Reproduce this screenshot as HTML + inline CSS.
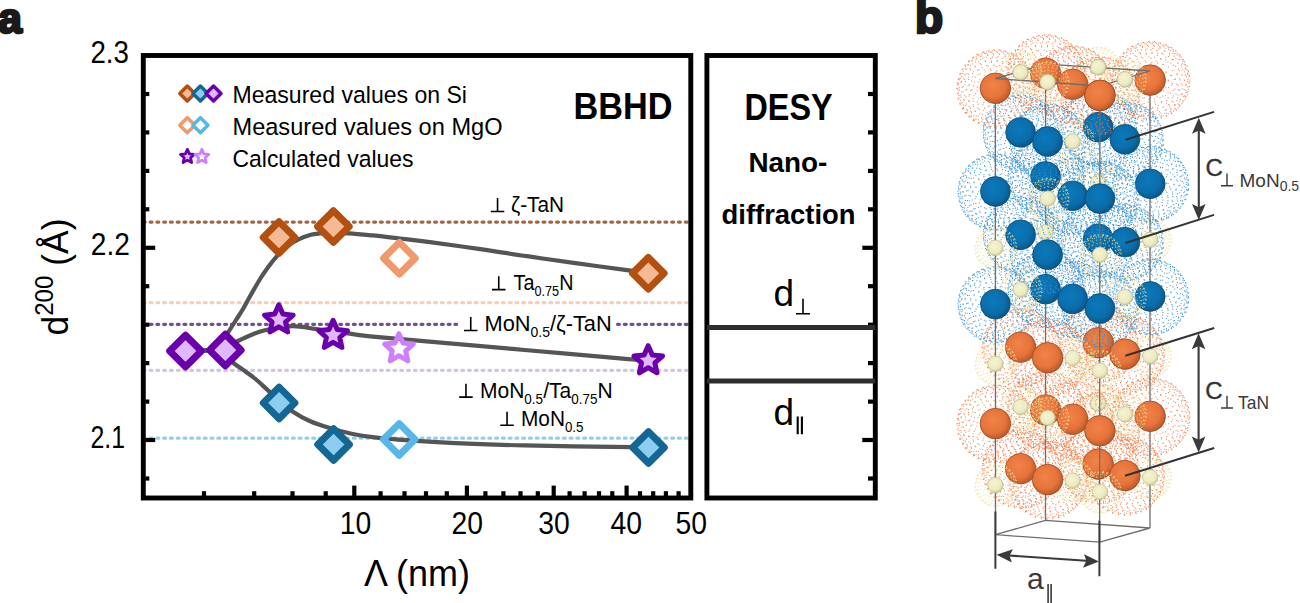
<!DOCTYPE html>
<html><head><meta charset="utf-8"><title>figure</title>
<style>
html,body{margin:0;padding:0;background:#fff;}
body{width:1300px;height:603px;overflow:hidden;}
svg{display:block;font-family:"Liberation Sans", sans-serif;}
</style></head><body>
<svg width="1300" height="603" viewBox="0 0 1300 603">

<defs>
<radialGradient id="gO" cx="0.42" cy="0.4" r="0.62">
  <stop offset="0" stop-color="#f08448"/><stop offset="0.65" stop-color="#e6733a"/><stop offset="1" stop-color="#b9582a"/>
</radialGradient>
<radialGradient id="gB" cx="0.42" cy="0.4" r="0.62">
  <stop offset="0" stop-color="#0b79bd"/><stop offset="0.65" stop-color="#0a6eaa"/><stop offset="1" stop-color="#085589"/>
</radialGradient>
<radialGradient id="gN" cx="0.42" cy="0.4" r="0.62">
  <stop offset="0" stop-color="#f6f4d2"/><stop offset="0.7" stop-color="#eceac0"/><stop offset="1" stop-color="#cfcb9c"/>
</radialGradient>
<g id="dsO"><path d="M0.2 -16.8h1.05v1.05h-1.05zM-0.2 -11.3h1.05v1.05h-1.05zM-5.3 -14.0h1.05v1.05h-1.05zM-5.4 -19.9h1.05v1.05h-1.05zM0.4 -22.3h1.05v1.05h-1.05zM5.5 -19.6h1.05v1.05h-1.05zM5.2 -13.7h1.05v1.05h-1.05zM1.8 -5.2h1.05v1.05h-1.05zM-4.4 -6.2h1.05v1.05h-1.05zM-8.9 -8.6h1.05v1.05h-1.05zM-11.7 -13.5h1.05v1.05h-1.05zM-11.8 -18.8h1.05v1.05h-1.05zM-9.3 -23.3h1.05v1.05h-1.05zM-4.4 -26.4h1.05v1.05h-1.05zM1.2 -27.1h1.05v1.05h-1.05zM6.7 -25.2h1.05v1.05h-1.05zM10.4 -21.1h1.05v1.05h-1.05zM12.1 -16.2h1.05v1.05h-1.05zM10.6 -11.0h1.05v1.05h-1.05zM7.2 -7.5h1.05v1.05h-1.05zM-8.7 -1.2h1.05v1.05h-1.05zM-13.1 -4.6h1.05v1.05h-1.05zM-16.2 -9.0h1.05v1.05h-1.05zM-17.8 -14.1h1.05v1.05h-1.05zM-16.9 -19.2h1.05v1.05h-1.05zM-14.6 -24.1h1.05v1.05h-1.05zM-10.8 -28.1h1.05v1.05h-1.05zM-5.2 -30.4h1.05v1.05h-1.05zM0.3 -31.0h1.05v1.05h-1.05zM6.2 -30.0h1.05v1.05h-1.05zM11.1 -27.5h1.05v1.05h-1.05zM15.1 -23.4h1.05v1.05h-1.05zM17.3 -18.7h1.05v1.05h-1.05zM17.6 -13.7h1.05v1.05h-1.05zM15.8 -8.3h1.05v1.05h-1.05zM13.0 -4.0h1.05v1.05h-1.05zM8.0 -1.1h1.05v1.05h-1.05zM2.5 0.9h1.05v1.05h-1.05zM-3.2 0.6h1.05v1.05h-1.05zM14.5 -29.6h1.05v1.05h-1.05zM18.9 -25.6h1.05v1.05h-1.05zM21.5 -21.0h1.05v1.05h-1.05zM22.8 -15.4h1.05v1.05h-1.05zM22.3 -10.1h1.05v1.05h-1.05zM21.0 -4.9h1.05v1.05h-1.05zM17.8 -0.4h1.05v1.05h-1.05zM13.3 3.2h1.05v1.05h-1.05zM7.9 5.4h1.05v1.05h-1.05zM2.3 6.9h1.05v1.05h-1.05zM-4.0 6.6h1.05v1.05h-1.05zM-9.6 5.0h1.05v1.05h-1.05zM-14.7 2.2h1.05v1.05h-1.05zM-18.6 -1.7h1.05v1.05h-1.05zM-21.5 -6.8h1.05v1.05h-1.05zM-23.0 -12.0h1.05v1.05h-1.05zM-22.6 -17.0h1.05v1.05h-1.05zM-20.7 -22.2h1.05v1.05h-1.05zM-17.5 -27.0h1.05v1.05h-1.05zM-13.1 -30.5h1.05v1.05h-1.05zM-8.2 -33.3h1.05v1.05h-1.05zM-2.4 -34.1h1.05v1.05h-1.05zM3.7 -34.3h1.05v1.05h-1.05zM9.6 -32.6h1.05v1.05h-1.05zM24.8 -1.5h1.05v1.05h-1.05zM21.7 3.0h1.05v1.05h-1.05zM17.9 7.0h1.05v1.05h-1.05zM12.7 10.0h1.05v1.05h-1.05zM7.0 11.9h1.05v1.05h-1.05zM1.4 12.6h1.05v1.05h-1.05zM-4.8 12.7h1.05v1.05h-1.05zM-10.3 10.9h1.05v1.05h-1.05zM-15.5 8.7h1.05v1.05h-1.05zM-20.3 4.8h1.05v1.05h-1.05zM-23.9 0.8h1.05v1.05h-1.05zM-26.3 -4.0h1.05v1.05h-1.05zM-27.3 -9.4h1.05v1.05h-1.05zM-27.5 -14.5h1.05v1.05h-1.05zM-26.0 -20.0h1.05v1.05h-1.05zM-23.7 -24.8h1.05v1.05h-1.05zM-20.0 -29.1h1.05v1.05h-1.05zM-15.5 -32.5h1.05v1.05h-1.05zM-10.3 -35.2h1.05v1.05h-1.05zM-4.1 -36.3h1.05v1.05h-1.05zM1.5 -36.6h1.05v1.05h-1.05zM7.4 -35.7h1.05v1.05h-1.05zM13.1 -33.9h1.05v1.05h-1.05zM17.8 -31.1h1.05v1.05h-1.05zM22.2 -27.2h1.05v1.05h-1.05zM25.2 -22.1h1.05v1.05h-1.05zM27.0 -17.4h1.05v1.05h-1.05zM27.8 -11.7h1.05v1.05h-1.05zM27.0 -6.6h1.05v1.05h-1.05zM-22.8 9.6h1.05v1.05h-1.05zM-26.3 5.6h1.05v1.05h-1.05zM-29.2 0.8h1.05v1.05h-1.05zM-30.8 -4.1h1.05v1.05h-1.05zM-31.5 -9.3h1.05v1.05h-1.05zM-31.0 -14.2h1.05v1.05h-1.05zM-30.0 -19.7h1.05v1.05h-1.05zM-27.4 -24.0h1.05v1.05h-1.05zM-23.8 -28.6h1.05v1.05h-1.05zM-19.8 -32.1h1.05v1.05h-1.05zM-14.7 -34.8h1.05v1.05h-1.05zM-9.5 -36.9h1.05v1.05h-1.05zM-3.7 -38.2h1.05v1.05h-1.05zM2.3 -38.5h1.05v1.05h-1.05zM7.9 -37.7h1.05v1.05h-1.05zM13.1 -35.5h1.05v1.05h-1.05zM18.2 -33.0h1.05v1.05h-1.05zM22.8 -29.5h1.05v1.05h-1.05zM26.3 -25.7h1.05v1.05h-1.05zM29.0 -20.8h1.05v1.05h-1.05zM30.9 -15.7h1.05v1.05h-1.05zM31.7 -10.9h1.05v1.05h-1.05zM31.2 -5.7h1.05v1.05h-1.05zM29.5 -0.7h1.05v1.05h-1.05zM27.5 4.5h1.05v1.05h-1.05zM24.1 8.5h1.05v1.05h-1.05zM19.8 12.4h1.05v1.05h-1.05zM14.8 15.1h1.05v1.05h-1.05zM9.3 16.9h1.05v1.05h-1.05zM3.7 18.4h1.05v1.05h-1.05zM-2.0 18.6h1.05v1.05h-1.05zM-7.8 17.4h1.05v1.05h-1.05zM-13.1 16.0h1.05v1.05h-1.05zM-18.6 13.2h1.05v1.05h-1.05zM28.9 9.5h1.05v1.05h-1.05zM25.3 13.4h1.05v1.05h-1.05zM21.4 17.1h1.05v1.05h-1.05zM16.0 19.8h1.05v1.05h-1.05zM10.7 22.2h1.05v1.05h-1.05zM4.8 23.5h1.05v1.05h-1.05zM-0.9 23.8h1.05v1.05h-1.05zM-6.5 22.9h1.05v1.05h-1.05zM-12.5 21.5h1.05v1.05h-1.05zM-17.9 19.3h1.05v1.05h-1.05zM-22.7 15.9h1.05v1.05h-1.05zM-26.4 12.3h1.05v1.05h-1.05zM-30.0 8.0h1.05v1.05h-1.05zM-32.6 3.0h1.05v1.05h-1.05zM-33.9 -1.6h1.05v1.05h-1.05zM-34.5 -7.3h1.05v1.05h-1.05zM-34.5 -12.4h1.05v1.05h-1.05zM-32.7 -17.6h1.05v1.05h-1.05zM-30.5 -22.4h1.05v1.05h-1.05zM-27.6 -26.9h1.05v1.05h-1.05zM-23.5 -30.9h1.05v1.05h-1.05zM-19.0 -34.2h1.05v1.05h-1.05zM-13.3 -36.5h1.05v1.05h-1.05zM-7.9 -38.1h1.05v1.05h-1.05zM-1.9 -39.0h1.05v1.05h-1.05zM3.7 -38.9h1.05v1.05h-1.05zM9.5 -37.6h1.05v1.05h-1.05zM15.3 -36.0h1.05v1.05h-1.05zM20.1 -33.2h1.05v1.05h-1.05zM24.7 -29.7h1.05v1.05h-1.05zM28.3 -25.9h1.05v1.05h-1.05zM31.3 -21.3h1.05v1.05h-1.05zM33.5 -16.4h1.05v1.05h-1.05zM34.4 -10.9h1.05v1.05h-1.05zM34.6 -5.5h1.05v1.05h-1.05zM33.8 -0.2h1.05v1.05h-1.05zM31.7 4.7h1.05v1.05h-1.05zM10.1 -37.1h1.05v1.05h-1.05zM15.6 -35.3h1.05v1.05h-1.05zM21.1 -32.7h1.05v1.05h-1.05zM25.3 -29.8h1.05v1.05h-1.05zM29.3 -25.5h1.05v1.05h-1.05zM32.4 -21.1h1.05v1.05h-1.05zM34.7 -16.4h1.05v1.05h-1.05zM36.2 -11.6h1.05v1.05h-1.05zM37.3 -6.1h1.05v1.05h-1.05zM37.0 -0.9h1.05v1.05h-1.05zM35.7 4.2h1.05v1.05h-1.05zM33.4 8.9h1.05v1.05h-1.05zM30.5 13.6h1.05v1.05h-1.05zM27.1 17.5h1.05v1.05h-1.05zM22.5 21.4h1.05v1.05h-1.05zM18.0 24.0h1.05v1.05h-1.05zM12.6 26.4h1.05v1.05h-1.05zM6.9 27.5h1.05v1.05h-1.05zM1.1 28.0h1.05v1.05h-1.05zM-4.9 28.0h1.05v1.05h-1.05zM-10.4 26.9h1.05v1.05h-1.05zM-16.0 24.9h1.05v1.05h-1.05zM-21.0 22.2h1.05v1.05h-1.05zM-25.5 19.3h1.05v1.05h-1.05zM-29.4 15.2h1.05v1.05h-1.05zM-32.4 10.7h1.05v1.05h-1.05zM-35.1 6.1h1.05v1.05h-1.05zM-36.4 1.1h1.05v1.05h-1.05zM-37.1 -4.1h1.05v1.05h-1.05zM-36.7 -9.6h1.05v1.05h-1.05zM-35.6 -14.6h1.05v1.05h-1.05zM-33.7 -19.5h1.05v1.05h-1.05zM-30.6 -23.8h1.05v1.05h-1.05zM-26.8 -28.2h1.05v1.05h-1.05zM-22.7 -31.9h1.05v1.05h-1.05zM-18.1 -34.5h1.05v1.05h-1.05zM-12.4 -36.8h1.05v1.05h-1.05zM-6.8 -37.9h1.05v1.05h-1.05zM-1.3 -38.5h1.05v1.05h-1.05zM4.8 -38.4h1.05v1.05h-1.05zM-11.5 -35.7h1.05v1.05h-1.05zM-5.7 -36.7h1.05v1.05h-1.05zM0.2 -37.3h1.05v1.05h-1.05zM5.7 -37.1h1.05v1.05h-1.05zM11.5 -35.7h1.05v1.05h-1.05zM17.2 -34.0h1.05v1.05h-1.05zM22.3 -30.9h1.05v1.05h-1.05zM26.6 -27.6h1.05v1.05h-1.05zM30.5 -23.6h1.05v1.05h-1.05zM33.6 -19.0h1.05v1.05h-1.05zM36.4 -14.3h1.05v1.05h-1.05zM37.7 -9.0h1.05v1.05h-1.05zM38.7 -4.1h1.05v1.05h-1.05zM38.4 1.5h1.05v1.05h-1.05zM37.2 6.7h1.05v1.05h-1.05zM35.1 11.8h1.05v1.05h-1.05zM32.6 16.2h1.05v1.05h-1.05zM28.9 20.4h1.05v1.05h-1.05zM24.3 24.0h1.05v1.05h-1.05zM19.5 27.4h1.05v1.05h-1.05zM14.6 29.3h1.05v1.05h-1.05zM8.8 31.1h1.05v1.05h-1.05zM2.7 31.8h1.05v1.05h-1.05zM-3.1 32.1h1.05v1.05h-1.05zM-9.0 31.0h1.05v1.05h-1.05zM-14.4 29.3h1.05v1.05h-1.05zM-19.6 27.2h1.05v1.05h-1.05zM-24.4 24.0h1.05v1.05h-1.05zM-28.9 20.4h1.05v1.05h-1.05zM-32.5 16.2h1.05v1.05h-1.05zM-35.3 11.6h1.05v1.05h-1.05zM-37.0 6.7h1.05v1.05h-1.05zM-38.0 1.3h1.05v1.05h-1.05zM-38.5 -3.8h1.05v1.05h-1.05zM-37.7 -9.2h1.05v1.05h-1.05zM-36.3 -14.5h1.05v1.05h-1.05zM-34.0 -19.1h1.05v1.05h-1.05zM-30.8 -23.6h1.05v1.05h-1.05zM-26.7 -27.4h1.05v1.05h-1.05zM-22.0 -30.8h1.05v1.05h-1.05zM-17.3 -33.7h1.05v1.05h-1.05zM-35.1 -15.5h1.05v1.05h-1.05zM-32.1 -20.0h1.05v1.05h-1.05zM-28.6 -24.1h1.05v1.05h-1.05zM-24.1 -27.7h1.05v1.05h-1.05zM-19.3 -30.4h1.05v1.05h-1.05zM-13.9 -32.8h1.05v1.05h-1.05zM-8.3 -34.4h1.05v1.05h-1.05zM-2.8 -35.3h1.05v1.05h-1.05zM3.1 -35.0h1.05v1.05h-1.05zM9.1 -34.0h1.05v1.05h-1.05zM14.5 -32.4h1.05v1.05h-1.05zM19.7 -30.1h1.05v1.05h-1.05zM24.5 -27.2h1.05v1.05h-1.05zM29.0 -23.8h1.05v1.05h-1.05zM32.2 -19.5h1.05v1.05h-1.05zM35.3 -15.1h1.05v1.05h-1.05zM37.1 -10.2h1.05v1.05h-1.05zM38.6 -5.0h1.05v1.05h-1.05zM39.2 0.3h1.05v1.05h-1.05zM38.6 5.7h1.05v1.05h-1.05zM37.3 10.6h1.05v1.05h-1.05zM35.1 15.5h1.05v1.05h-1.05zM32.1 20.1h1.05v1.05h-1.05zM28.4 24.1h1.05v1.05h-1.05zM24.2 27.8h1.05v1.05h-1.05zM19.4 30.7h1.05v1.05h-1.05zM14.1 32.9h1.05v1.05h-1.05zM8.5 34.2h1.05v1.05h-1.05zM2.5 35.1h1.05v1.05h-1.05zM-3.0 35.0h1.05v1.05h-1.05zM-9.1 34.3h1.05v1.05h-1.05zM-14.5 32.6h1.05v1.05h-1.05zM-20.0 30.3h1.05v1.05h-1.05zM-24.4 27.3h1.05v1.05h-1.05zM-28.9 23.8h1.05v1.05h-1.05zM-32.6 19.6h1.05v1.05h-1.05zM-35.0 15.1h1.05v1.05h-1.05zM-37.4 10.2h1.05v1.05h-1.05zM-38.6 4.8h1.05v1.05h-1.05zM-39.1 -0.1h1.05v1.05h-1.05zM-38.6 -5.7h1.05v1.05h-1.05zM-37.0 -10.6h1.05v1.05h-1.05zM-26.0 28.3h1.05v1.05h-1.05zM-30.2 24.4h1.05v1.05h-1.05zM-33.3 20.1h1.05v1.05h-1.05zM-36.1 15.2h1.05v1.05h-1.05zM-37.8 10.1h1.05v1.05h-1.05zM-38.6 4.9h1.05v1.05h-1.05zM-38.2 -0.6h1.05v1.05h-1.05zM-37.5 -5.5h1.05v1.05h-1.05zM-35.4 -10.6h1.05v1.05h-1.05zM-33.1 -15.3h1.05v1.05h-1.05zM-29.3 -19.9h1.05v1.05h-1.05zM-25.2 -23.4h1.05v1.05h-1.05zM-20.3 -26.9h1.05v1.05h-1.05zM-15.2 -29.4h1.05v1.05h-1.05zM-9.4 -31.0h1.05v1.05h-1.05zM-3.6 -31.7h1.05v1.05h-1.05zM2.1 -32.1h1.05v1.05h-1.05zM7.9 -31.5h1.05v1.05h-1.05zM13.4 -29.7h1.05v1.05h-1.05zM18.8 -27.4h1.05v1.05h-1.05zM23.7 -24.5h1.05v1.05h-1.05zM28.3 -21.1h1.05v1.05h-1.05zM31.6 -16.9h1.05v1.05h-1.05zM34.8 -12.5h1.05v1.05h-1.05zM36.7 -7.5h1.05v1.05h-1.05zM38.2 -1.9h1.05v1.05h-1.05zM38.4 2.9h1.05v1.05h-1.05zM38.1 8.6h1.05v1.05h-1.05zM36.8 13.7h1.05v1.05h-1.05zM34.2 18.7h1.05v1.05h-1.05zM31.0 23.1h1.05v1.05h-1.05zM27.2 27.0h1.05v1.05h-1.05zM22.9 30.5h1.05v1.05h-1.05zM17.7 33.2h1.05v1.05h-1.05zM12.6 35.4h1.05v1.05h-1.05zM6.8 36.7h1.05v1.05h-1.05zM1.0 37.2h1.05v1.05h-1.05zM-4.9 37.3h1.05v1.05h-1.05zM-10.5 35.7h1.05v1.05h-1.05zM-16.1 34.3h1.05v1.05h-1.05zM-21.5 31.4h1.05v1.05h-1.05zM-32.3 -10.9h1.05v1.05h-1.05zM-29.1 -15.1h1.05v1.05h-1.05zM-25.5 -18.9h1.05v1.05h-1.05zM-21.0 -22.6h1.05v1.05h-1.05zM-15.7 -25.2h1.05v1.05h-1.05zM-10.4 -27.0h1.05v1.05h-1.05zM-4.6 -27.7h1.05v1.05h-1.05zM1.4 -28.4h1.05v1.05h-1.05zM6.8 -27.4h1.05v1.05h-1.05zM12.4 -26.3h1.05v1.05h-1.05zM17.7 -24.2h1.05v1.05h-1.05zM22.5 -21.0h1.05v1.05h-1.05zM27.2 -17.5h1.05v1.05h-1.05zM30.9 -13.4h1.05v1.05h-1.05zM33.5 -8.9h1.05v1.05h-1.05zM35.9 -4.0h1.05v1.05h-1.05zM36.7 0.9h1.05v1.05h-1.05zM37.3 6.4h1.05v1.05h-1.05zM36.3 11.6h1.05v1.05h-1.05zM34.9 16.6h1.05v1.05h-1.05zM32.3 21.3h1.05v1.05h-1.05zM29.2 25.6h1.05v1.05h-1.05zM25.5 29.6h1.05v1.05h-1.05zM20.9 33.0h1.05v1.05h-1.05zM15.9 35.6h1.05v1.05h-1.05zM10.4 37.2h1.05v1.05h-1.05zM4.8 38.2h1.05v1.05h-1.05zM-1.0 38.8h1.05v1.05h-1.05zM-6.8 37.8h1.05v1.05h-1.05zM-12.8 36.8h1.05v1.05h-1.05zM-17.9 34.4h1.05v1.05h-1.05zM-22.5 31.4h1.05v1.05h-1.05zM-27.1 28.0h1.05v1.05h-1.05zM-30.9 23.9h1.05v1.05h-1.05zM-33.5 19.6h1.05v1.05h-1.05zM-35.9 14.5h1.05v1.05h-1.05zM-37.0 9.5h1.05v1.05h-1.05zM-37.3 3.9h1.05v1.05h-1.05zM-36.5 -1.0h1.05v1.05h-1.05zM-35.0 -6.3h1.05v1.05h-1.05zM9.8 -22.2h1.05v1.05h-1.05zM15.0 -20.5h1.05v1.05h-1.05zM20.1 -17.7h1.05v1.05h-1.05zM24.6 -14.4h1.05v1.05h-1.05zM28.6 -10.0h1.05v1.05h-1.05zM31.5 -5.9h1.05v1.05h-1.05zM33.5 -0.7h1.05v1.05h-1.05zM34.8 4.6h1.05v1.05h-1.05zM34.8 9.9h1.05v1.05h-1.05zM33.8 15.3h1.05v1.05h-1.05zM32.1 20.0h1.05v1.05h-1.05zM28.9 24.7h1.05v1.05h-1.05zM25.5 28.8h1.05v1.05h-1.05zM21.1 32.6h1.05v1.05h-1.05zM15.9 35.6h1.05v1.05h-1.05zM10.8 37.4h1.05v1.05h-1.05zM4.9 38.6h1.05v1.05h-1.05zM-1.0 39.1h1.05v1.05h-1.05zM-6.7 38.4h1.05v1.05h-1.05zM-12.6 37.1h1.05v1.05h-1.05zM-17.8 34.5h1.05v1.05h-1.05zM-22.7 31.8h1.05v1.05h-1.05zM-26.7 28.0h1.05v1.05h-1.05zM-29.8 23.7h1.05v1.05h-1.05zM-32.4 18.8h1.05v1.05h-1.05zM-33.9 13.7h1.05v1.05h-1.05zM-34.9 8.2h1.05v1.05h-1.05zM-34.3 3.2h1.05v1.05h-1.05zM-32.8 -2.1h1.05v1.05h-1.05zM-30.5 -7.2h1.05v1.05h-1.05zM-27.2 -11.5h1.05v1.05h-1.05zM-23.4 -15.4h1.05v1.05h-1.05zM-18.5 -18.6h1.05v1.05h-1.05zM-13.7 -21.3h1.05v1.05h-1.05zM-7.8 -22.7h1.05v1.05h-1.05zM-1.9 -23.7h1.05v1.05h-1.05zM3.8 -23.3h1.05v1.05h-1.05zM29.8 18.8h1.05v1.05h-1.05zM27.6 23.4h1.05v1.05h-1.05zM24.3 28.0h1.05v1.05h-1.05zM20.4 31.5h1.05v1.05h-1.05zM15.4 34.8h1.05v1.05h-1.05zM10.4 36.7h1.05v1.05h-1.05zM4.8 37.8h1.05v1.05h-1.05zM-1.3 38.5h1.05v1.05h-1.05zM-6.9 37.6h1.05v1.05h-1.05zM-12.3 36.1h1.05v1.05h-1.05zM-17.4 33.7h1.05v1.05h-1.05zM-22.2 30.3h1.05v1.05h-1.05zM-25.9 26.4h1.05v1.05h-1.05zM-28.6 21.8h1.05v1.05h-1.05zM-30.5 17.0h1.05v1.05h-1.05zM-31.6 11.4h1.05v1.05h-1.05zM-31.2 6.4h1.05v1.05h-1.05zM-30.0 1.2h1.05v1.05h-1.05zM-27.7 -3.4h1.05v1.05h-1.05zM-24.3 -7.9h1.05v1.05h-1.05zM-20.6 -11.6h1.05v1.05h-1.05zM-15.6 -14.9h1.05v1.05h-1.05zM-10.4 -16.8h1.05v1.05h-1.05zM-4.9 -18.3h1.05v1.05h-1.05zM1.1 -18.2h1.05v1.05h-1.05zM7.1 -17.5h1.05v1.05h-1.05zM12.5 -16.1h1.05v1.05h-1.05zM17.6 -13.6h1.05v1.05h-1.05zM22.1 -10.1h1.05v1.05h-1.05zM26.1 -6.3h1.05v1.05h-1.05zM28.8 -1.8h1.05v1.05h-1.05zM30.6 3.2h1.05v1.05h-1.05zM31.5 8.4h1.05v1.05h-1.05zM31.5 13.5h1.05v1.05h-1.05zM-17.8 -6.7h1.05v1.05h-1.05zM-13.1 -9.9h1.05v1.05h-1.05zM-7.6 -11.7h1.05v1.05h-1.05zM-1.5 -12.7h1.05v1.05h-1.05zM4.4 -12.3h1.05v1.05h-1.05zM10.2 -11.2h1.05v1.05h-1.05zM15.3 -8.5h1.05v1.05h-1.05zM19.8 -5.1h1.05v1.05h-1.05zM23.5 -1.1h1.05v1.05h-1.05zM26.0 3.7h1.05v1.05h-1.05zM27.3 9.1h1.05v1.05h-1.05zM27.2 14.3h1.05v1.05h-1.05zM26.1 19.9h1.05v1.05h-1.05zM23.8 24.5h1.05v1.05h-1.05zM20.4 28.8h1.05v1.05h-1.05zM15.7 32.6h1.05v1.05h-1.05zM10.5 35.0h1.05v1.05h-1.05zM4.8 36.5h1.05v1.05h-1.05zM-1.2 36.8h1.05v1.05h-1.05zM-6.9 36.1h1.05v1.05h-1.05zM-12.9 33.8h1.05v1.05h-1.05zM-17.5 30.9h1.05v1.05h-1.05zM-22.1 27.1h1.05v1.05h-1.05zM-24.9 22.8h1.05v1.05h-1.05zM-26.9 17.6h1.05v1.05h-1.05zM-27.4 12.0h1.05v1.05h-1.05zM-26.9 7.1h1.05v1.05h-1.05zM-25.1 1.8h1.05v1.05h-1.05zM-22.2 -2.7h1.05v1.05h-1.05zM22.3 9.8h1.05v1.05h-1.05zM22.8 15.3h1.05v1.05h-1.05zM21.5 20.3h1.05v1.05h-1.05zM18.9 25.3h1.05v1.05h-1.05zM15.2 29.5h1.05v1.05h-1.05zM10.2 32.4h1.05v1.05h-1.05zM4.1 33.9h1.05v1.05h-1.05zM-1.5 34.2h1.05v1.05h-1.05zM-7.5 33.4h1.05v1.05h-1.05zM-13.0 31.0h1.05v1.05h-1.05zM-17.5 27.2h1.05v1.05h-1.05zM-20.4 22.6h1.05v1.05h-1.05zM-22.5 17.6h1.05v1.05h-1.05zM-22.7 12.5h1.05v1.05h-1.05zM-21.8 7.0h1.05v1.05h-1.05zM-18.8 2.2h1.05v1.05h-1.05zM-15.2 -1.7h1.05v1.05h-1.05zM-10.1 -4.8h1.05v1.05h-1.05zM-4.6 -6.3h1.05v1.05h-1.05zM1.7 -6.7h1.05v1.05h-1.05zM7.7 -5.9h1.05v1.05h-1.05zM12.9 -3.4h1.05v1.05h-1.05zM17.4 0.4h1.05v1.05h-1.05zM20.5 4.6h1.05v1.05h-1.05zM-4.8 -0.4h1.05v1.05h-1.05zM0.8 -0.8h1.05v1.05h-1.05zM6.7 0.6h1.05v1.05h-1.05zM11.7 3.2h1.05v1.05h-1.05zM15.2 7.1h1.05v1.05h-1.05zM17.3 12.2h1.05v1.05h-1.05zM17.4 17.2h1.05v1.05h-1.05zM15.7 22.3h1.05v1.05h-1.05zM12.3 26.6h1.05v1.05h-1.05zM7.4 29.7h1.05v1.05h-1.05zM2.0 31.0h1.05v1.05h-1.05zM-4.1 30.6h1.05v1.05h-1.05zM-9.2 28.8h1.05v1.05h-1.05zM-13.5 25.4h1.05v1.05h-1.05zM-16.7 20.7h1.05v1.05h-1.05zM-17.8 15.4h1.05v1.05h-1.05zM-17.1 10.2h1.05v1.05h-1.05zM-14.5 5.7h1.05v1.05h-1.05zM-10.0 2.0h1.05v1.05h-1.05zM-4.9 6.0h1.05v1.05h-1.05zM0.9 5.5h1.05v1.05h-1.05zM6.3 6.7h1.05v1.05h-1.05zM10.2 10.5h1.05v1.05h-1.05zM12.1 15.4h1.05v1.05h-1.05zM10.8 20.8h1.05v1.05h-1.05zM7.6 24.7h1.05v1.05h-1.05zM2.1 26.8h1.05v1.05h-1.05zM-4.0 26.4h1.05v1.05h-1.05zM-8.8 23.6h1.05v1.05h-1.05zM-11.4 19.3h1.05v1.05h-1.05zM-12.1 13.8h1.05v1.05h-1.05zM-9.3 9.1h1.05v1.05h-1.05zM-2.6 21.5h1.05v1.05h-1.05zM-6.3 17.1h1.05v1.05h-1.05zM-3.6 12.5h1.05v1.05h-1.05zM2.6 11.6h1.05v1.05h-1.05zM6.2 16.1h1.05v1.05h-1.05zM3.6 21.1h1.05v1.05h-1.05zM-0.1 17.1h1.05v1.05h-1.05z" fill="#ef7d48" fill-opacity="0.9"/></g>
<g id="dsB"><path d="M0.2 -16.8h1.05v1.05h-1.05zM5.3 -13.5h1.05v1.05h-1.05zM0.9 -11.1h1.05v1.05h-1.05zM-4.0 -12.4h1.05v1.05h-1.05zM-5.9 -16.9h1.05v1.05h-1.05zM-3.3 -20.8h1.05v1.05h-1.05zM1.9 -21.2h1.05v1.05h-1.05zM5.8 -18.2h1.05v1.05h-1.05zM-11.2 -12.4h1.05v1.05h-1.05zM-11.9 -17.2h1.05v1.05h-1.05zM-9.6 -21.9h1.05v1.05h-1.05zM-5.1 -25.1h1.05v1.05h-1.05zM0.2 -26.4h1.05v1.05h-1.05zM5.4 -25.1h1.05v1.05h-1.05zM9.6 -21.6h1.05v1.05h-1.05zM11.9 -16.7h1.05v1.05h-1.05zM10.8 -11.6h1.05v1.05h-1.05zM7.8 -7.6h1.05v1.05h-1.05zM2.8 -5.3h1.05v1.05h-1.05zM-2.8 -5.6h1.05v1.05h-1.05zM-7.7 -7.7h1.05v1.05h-1.05zM9.3 -1.4h1.05v1.05h-1.05zM3.9 0.4h1.05v1.05h-1.05zM-1.8 0.9h1.05v1.05h-1.05zM-7.3 -0.5h1.05v1.05h-1.05zM-12.0 -3.3h1.05v1.05h-1.05zM-15.1 -7.6h1.05v1.05h-1.05zM-17.0 -12.3h1.05v1.05h-1.05zM-16.8 -17.6h1.05v1.05h-1.05zM-15.1 -22.5h1.05v1.05h-1.05zM-11.3 -26.5h1.05v1.05h-1.05zM-6.4 -29.2h1.05v1.05h-1.05zM-0.9 -30.3h1.05v1.05h-1.05zM4.8 -29.6h1.05v1.05h-1.05zM9.7 -27.5h1.05v1.05h-1.05zM13.9 -24.0h1.05v1.05h-1.05zM16.3 -19.6h1.05v1.05h-1.05zM17.3 -14.2h1.05v1.05h-1.05zM16.3 -9.6h1.05v1.05h-1.05zM13.6 -4.8h1.05v1.05h-1.05zM18.5 -24.3h1.05v1.05h-1.05zM20.9 -19.8h1.05v1.05h-1.05zM22.2 -15.1h1.05v1.05h-1.05zM22.2 -10.1h1.05v1.05h-1.05zM20.4 -4.9h1.05v1.05h-1.05zM17.3 -0.9h1.05v1.05h-1.05zM13.6 2.7h1.05v1.05h-1.05zM8.6 5.0h1.05v1.05h-1.05zM3.1 6.4h1.05v1.05h-1.05zM-2.4 6.4h1.05v1.05h-1.05zM-7.7 5.2h1.05v1.05h-1.05zM-12.7 2.8h1.05v1.05h-1.05zM-17.1 -0.2h1.05v1.05h-1.05zM-20.2 -4.7h1.05v1.05h-1.05zM-21.8 -9.4h1.05v1.05h-1.05zM-22.5 -14.1h1.05v1.05h-1.05zM-21.5 -19.5h1.05v1.05h-1.05zM-19.1 -23.8h1.05v1.05h-1.05zM-15.4 -28.0h1.05v1.05h-1.05zM-11.1 -31.1h1.05v1.05h-1.05zM-5.9 -32.6h1.05v1.05h-1.05zM-0.2 -33.3h1.05v1.05h-1.05zM5.4 -32.7h1.05v1.05h-1.05zM10.6 -31.2h1.05v1.05h-1.05zM14.9 -28.2h1.05v1.05h-1.05zM-11.1 10.4h1.05v1.05h-1.05zM-15.6 7.7h1.05v1.05h-1.05zM-19.9 4.5h1.05v1.05h-1.05zM-23.2 0.3h1.05v1.05h-1.05zM-25.3 -4.3h1.05v1.05h-1.05zM-26.7 -9.1h1.05v1.05h-1.05zM-27.0 -14.1h1.05v1.05h-1.05zM-25.8 -19.3h1.05v1.05h-1.05zM-23.5 -23.9h1.05v1.05h-1.05zM-20.2 -27.8h1.05v1.05h-1.05zM-15.8 -31.0h1.05v1.05h-1.05zM-10.8 -33.5h1.05v1.05h-1.05zM-5.8 -35.4h1.05v1.05h-1.05zM-0.2 -35.8h1.05v1.05h-1.05zM5.6 -35.2h1.05v1.05h-1.05zM11.0 -33.9h1.05v1.05h-1.05zM15.7 -31.3h1.05v1.05h-1.05zM19.7 -28.2h1.05v1.05h-1.05zM23.2 -24.0h1.05v1.05h-1.05zM25.6 -19.3h1.05v1.05h-1.05zM26.5 -14.4h1.05v1.05h-1.05zM26.6 -9.4h1.05v1.05h-1.05zM25.6 -4.3h1.05v1.05h-1.05zM23.2 0.4h1.05v1.05h-1.05zM19.9 4.7h1.05v1.05h-1.05zM16.1 8.0h1.05v1.05h-1.05zM11.0 10.4h1.05v1.05h-1.05zM5.7 11.7h1.05v1.05h-1.05zM0.0 12.5h1.05v1.05h-1.05zM-5.7 11.8h1.05v1.05h-1.05zM9.9 -35.9h1.05v1.05h-1.05zM15.4 -33.7h1.05v1.05h-1.05zM19.7 -30.6h1.05v1.05h-1.05zM23.7 -27.5h1.05v1.05h-1.05zM27.1 -23.2h1.05v1.05h-1.05zM29.1 -18.1h1.05v1.05h-1.05zM30.6 -13.6h1.05v1.05h-1.05zM30.7 -8.3h1.05v1.05h-1.05zM29.9 -3.3h1.05v1.05h-1.05zM28.1 1.4h1.05v1.05h-1.05zM25.1 6.0h1.05v1.05h-1.05zM21.8 9.8h1.05v1.05h-1.05zM17.3 13.1h1.05v1.05h-1.05zM12.2 15.6h1.05v1.05h-1.05zM6.8 17.4h1.05v1.05h-1.05zM1.1 17.8h1.05v1.05h-1.05zM-4.7 17.5h1.05v1.05h-1.05zM-9.8 16.5h1.05v1.05h-1.05zM-14.9 14.5h1.05v1.05h-1.05zM-20.1 11.5h1.05v1.05h-1.05zM-23.7 7.9h1.05v1.05h-1.05zM-27.0 3.5h1.05v1.05h-1.05zM-29.2 -1.0h1.05v1.05h-1.05zM-30.6 -6.1h1.05v1.05h-1.05zM-30.7 -11.0h1.05v1.05h-1.05zM-29.7 -16.0h1.05v1.05h-1.05zM-27.9 -21.2h1.05v1.05h-1.05zM-25.4 -25.5h1.05v1.05h-1.05zM-21.7 -29.5h1.05v1.05h-1.05zM-17.1 -32.5h1.05v1.05h-1.05zM-12.2 -35.0h1.05v1.05h-1.05zM-7.0 -36.8h1.05v1.05h-1.05zM-0.9 -37.6h1.05v1.05h-1.05zM4.4 -37.3h1.05v1.05h-1.05zM29.2 8.4h1.05v1.05h-1.05zM25.7 12.2h1.05v1.05h-1.05zM21.4 15.9h1.05v1.05h-1.05zM16.9 19.0h1.05v1.05h-1.05zM11.6 21.1h1.05v1.05h-1.05zM5.9 22.5h1.05v1.05h-1.05zM0.6 23.1h1.05v1.05h-1.05zM-5.6 22.6h1.05v1.05h-1.05zM-10.8 21.2h1.05v1.05h-1.05zM-16.0 19.2h1.05v1.05h-1.05zM-20.9 16.4h1.05v1.05h-1.05zM-24.9 13.0h1.05v1.05h-1.05zM-28.6 8.6h1.05v1.05h-1.05zM-31.3 3.9h1.05v1.05h-1.05zM-33.0 -0.6h1.05v1.05h-1.05zM-34.0 -5.9h1.05v1.05h-1.05zM-33.6 -11.1h1.05v1.05h-1.05zM-32.4 -15.9h1.05v1.05h-1.05zM-30.3 -21.0h1.05v1.05h-1.05zM-27.2 -25.5h1.05v1.05h-1.05zM-23.6 -29.2h1.05v1.05h-1.05zM-19.1 -32.4h1.05v1.05h-1.05zM-14.4 -35.1h1.05v1.05h-1.05zM-8.9 -36.8h1.05v1.05h-1.05zM-3.0 -37.8h1.05v1.05h-1.05zM2.3 -37.9h1.05v1.05h-1.05zM8.3 -36.9h1.05v1.05h-1.05zM13.7 -35.3h1.05v1.05h-1.05zM18.4 -32.7h1.05v1.05h-1.05zM23.3 -29.7h1.05v1.05h-1.05zM27.2 -25.7h1.05v1.05h-1.05zM29.9 -21.4h1.05v1.05h-1.05zM32.4 -16.9h1.05v1.05h-1.05zM33.7 -11.7h1.05v1.05h-1.05zM33.7 -6.4h1.05v1.05h-1.05zM33.0 -1.3h1.05v1.05h-1.05zM31.5 3.4h1.05v1.05h-1.05zM-33.1 -18.4h1.05v1.05h-1.05zM-30.1 -22.9h1.05v1.05h-1.05zM-27.2 -26.8h1.05v1.05h-1.05zM-22.7 -30.2h1.05v1.05h-1.05zM-18.1 -33.2h1.05v1.05h-1.05zM-13.0 -35.5h1.05v1.05h-1.05zM-7.8 -36.9h1.05v1.05h-1.05zM-2.3 -37.8h1.05v1.05h-1.05zM3.8 -37.6h1.05v1.05h-1.05zM9.4 -36.4h1.05v1.05h-1.05zM14.5 -34.8h1.05v1.05h-1.05zM19.7 -32.3h1.05v1.05h-1.05zM23.9 -29.5h1.05v1.05h-1.05zM27.9 -25.7h1.05v1.05h-1.05zM31.1 -21.7h1.05v1.05h-1.05zM33.7 -16.6h1.05v1.05h-1.05zM35.3 -12.0h1.05v1.05h-1.05zM36.0 -7.0h1.05v1.05h-1.05zM36.1 -1.9h1.05v1.05h-1.05zM35.0 3.2h1.05v1.05h-1.05zM33.1 8.2h1.05v1.05h-1.05zM30.2 12.7h1.05v1.05h-1.05zM26.8 16.7h1.05v1.05h-1.05zM23.0 20.2h1.05v1.05h-1.05zM18.1 23.2h1.05v1.05h-1.05zM12.9 25.3h1.05v1.05h-1.05zM7.6 26.7h1.05v1.05h-1.05zM2.2 27.5h1.05v1.05h-1.05zM-3.6 27.2h1.05v1.05h-1.05zM-9.4 26.3h1.05v1.05h-1.05zM-14.7 24.6h1.05v1.05h-1.05zM-19.3 22.1h1.05v1.05h-1.05zM-23.9 19.1h1.05v1.05h-1.05zM-28.1 15.4h1.05v1.05h-1.05zM-31.4 11.2h1.05v1.05h-1.05zM-33.9 6.6h1.05v1.05h-1.05zM-35.4 2.0h1.05v1.05h-1.05zM-35.9 -3.3h1.05v1.05h-1.05zM-35.9 -8.2h1.05v1.05h-1.05zM-35.0 -13.6h1.05v1.05h-1.05zM2.7 31.2h1.05v1.05h-1.05zM-2.9 31.0h1.05v1.05h-1.05zM-8.4 30.2h1.05v1.05h-1.05zM-13.9 28.8h1.05v1.05h-1.05zM-19.2 26.6h1.05v1.05h-1.05zM-24.0 23.7h1.05v1.05h-1.05zM-27.8 19.9h1.05v1.05h-1.05zM-31.4 16.0h1.05v1.05h-1.05zM-34.1 11.4h1.05v1.05h-1.05zM-36.0 6.6h1.05v1.05h-1.05zM-37.2 1.5h1.05v1.05h-1.05zM-37.6 -3.8h1.05v1.05h-1.05zM-36.8 -9.1h1.05v1.05h-1.05zM-35.4 -14.2h1.05v1.05h-1.05zM-32.7 -18.8h1.05v1.05h-1.05zM-29.9 -22.9h1.05v1.05h-1.05zM-26.2 -26.7h1.05v1.05h-1.05zM-21.8 -30.5h1.05v1.05h-1.05zM-16.7 -32.9h1.05v1.05h-1.05zM-11.1 -34.6h1.05v1.05h-1.05zM-5.6 -36.0h1.05v1.05h-1.05zM0.0 -36.5h1.05v1.05h-1.05zM5.9 -36.0h1.05v1.05h-1.05zM11.2 -34.7h1.05v1.05h-1.05zM16.5 -33.0h1.05v1.05h-1.05zM21.8 -30.4h1.05v1.05h-1.05zM25.9 -27.1h1.05v1.05h-1.05zM29.7 -23.1h1.05v1.05h-1.05zM32.9 -18.8h1.05v1.05h-1.05zM35.2 -14.1h1.05v1.05h-1.05zM36.9 -9.1h1.05v1.05h-1.05zM37.4 -3.7h1.05v1.05h-1.05zM37.1 1.1h1.05v1.05h-1.05zM36.4 6.3h1.05v1.05h-1.05zM34.4 11.1h1.05v1.05h-1.05zM31.5 16.0h1.05v1.05h-1.05zM27.9 20.0h1.05v1.05h-1.05zM23.9 23.4h1.05v1.05h-1.05zM19.4 26.4h1.05v1.05h-1.05zM14.0 28.8h1.05v1.05h-1.05zM8.5 30.5h1.05v1.05h-1.05zM-31.0 -19.7h1.05v1.05h-1.05zM-27.2 -23.4h1.05v1.05h-1.05zM-23.1 -27.1h1.05v1.05h-1.05zM-18.6 -29.9h1.05v1.05h-1.05zM-13.6 -32.2h1.05v1.05h-1.05zM-7.7 -33.7h1.05v1.05h-1.05zM-2.1 -34.1h1.05v1.05h-1.05zM3.6 -34.3h1.05v1.05h-1.05zM8.9 -33.1h1.05v1.05h-1.05zM14.1 -31.9h1.05v1.05h-1.05zM19.4 -29.5h1.05v1.05h-1.05zM23.9 -26.4h1.05v1.05h-1.05zM28.0 -22.7h1.05v1.05h-1.05zM31.8 -19.1h1.05v1.05h-1.05zM34.7 -14.5h1.05v1.05h-1.05zM36.5 -9.6h1.05v1.05h-1.05zM37.5 -4.6h1.05v1.05h-1.05zM37.8 0.3h1.05v1.05h-1.05zM37.7 5.7h1.05v1.05h-1.05zM36.2 10.6h1.05v1.05h-1.05zM34.2 15.1h1.05v1.05h-1.05zM31.1 19.5h1.05v1.05h-1.05zM27.3 23.4h1.05v1.05h-1.05zM23.1 26.8h1.05v1.05h-1.05zM18.4 29.8h1.05v1.05h-1.05zM13.4 32.2h1.05v1.05h-1.05zM8.1 33.6h1.05v1.05h-1.05zM2.3 34.4h1.05v1.05h-1.05zM-3.6 33.9h1.05v1.05h-1.05zM-8.8 33.3h1.05v1.05h-1.05zM-14.5 31.6h1.05v1.05h-1.05zM-19.6 29.3h1.05v1.05h-1.05zM-24.2 26.4h1.05v1.05h-1.05zM-28.1 23.1h1.05v1.05h-1.05zM-31.7 18.9h1.05v1.05h-1.05zM-34.6 14.5h1.05v1.05h-1.05zM-36.2 9.5h1.05v1.05h-1.05zM-37.6 4.7h1.05v1.05h-1.05zM-37.9 -0.7h1.05v1.05h-1.05zM-37.5 -5.7h1.05v1.05h-1.05zM-36.3 -10.5h1.05v1.05h-1.05zM-33.9 -15.2h1.05v1.05h-1.05zM-1.7 -31.2h1.05v1.05h-1.05zM3.7 -30.9h1.05v1.05h-1.05zM9.7 -29.9h1.05v1.05h-1.05zM15.0 -28.6h1.05v1.05h-1.05zM19.9 -26.2h1.05v1.05h-1.05zM24.7 -22.9h1.05v1.05h-1.05zM28.5 -19.0h1.05v1.05h-1.05zM32.3 -14.8h1.05v1.05h-1.05zM34.6 -10.5h1.05v1.05h-1.05zM36.3 -5.3h1.05v1.05h-1.05zM37.5 -0.5h1.05v1.05h-1.05zM37.7 4.8h1.05v1.05h-1.05zM36.6 9.9h1.05v1.05h-1.05zM35.1 14.9h1.05v1.05h-1.05zM32.5 19.4h1.05v1.05h-1.05zM29.3 23.7h1.05v1.05h-1.05zM25.5 27.4h1.05v1.05h-1.05zM20.7 30.8h1.05v1.05h-1.05zM15.7 33.3h1.05v1.05h-1.05zM10.5 34.9h1.05v1.05h-1.05zM4.8 36.2h1.05v1.05h-1.05zM-0.9 36.3h1.05v1.05h-1.05zM-6.8 35.8h1.05v1.05h-1.05zM-12.3 34.4h1.05v1.05h-1.05zM-17.7 32.4h1.05v1.05h-1.05zM-22.6 29.7h1.05v1.05h-1.05zM-26.7 26.2h1.05v1.05h-1.05zM-30.6 22.4h1.05v1.05h-1.05zM-33.3 17.8h1.05v1.05h-1.05zM-35.6 13.2h1.05v1.05h-1.05zM-36.8 8.2h1.05v1.05h-1.05zM-37.6 2.8h1.05v1.05h-1.05zM-37.0 -2.3h1.05v1.05h-1.05zM-36.1 -7.1h1.05v1.05h-1.05zM-34.0 -12.2h1.05v1.05h-1.05zM-31.0 -16.7h1.05v1.05h-1.05zM-27.2 -20.7h1.05v1.05h-1.05zM-23.1 -24.1h1.05v1.05h-1.05zM-18.1 -27.2h1.05v1.05h-1.05zM-13.0 -29.3h1.05v1.05h-1.05zM-7.7 -30.5h1.05v1.05h-1.05zM-25.9 28.1h1.05v1.05h-1.05zM-29.1 24.2h1.05v1.05h-1.05zM-32.3 19.9h1.05v1.05h-1.05zM-34.2 14.9h1.05v1.05h-1.05zM-35.8 10.3h1.05v1.05h-1.05zM-35.9 4.8h1.05v1.05h-1.05zM-35.6 0.1h1.05v1.05h-1.05zM-34.3 -5.0h1.05v1.05h-1.05zM-32.1 -9.9h1.05v1.05h-1.05zM-29.3 -14.4h1.05v1.05h-1.05zM-25.4 -18.2h1.05v1.05h-1.05zM-21.1 -21.4h1.05v1.05h-1.05zM-16.3 -23.7h1.05v1.05h-1.05zM-11.1 -25.9h1.05v1.05h-1.05zM-5.6 -27.2h1.05v1.05h-1.05zM0.0 -27.4h1.05v1.05h-1.05zM6.0 -27.2h1.05v1.05h-1.05zM11.5 -25.7h1.05v1.05h-1.05zM16.3 -23.7h1.05v1.05h-1.05zM21.3 -21.1h1.05v1.05h-1.05zM25.5 -17.8h1.05v1.05h-1.05zM29.3 -13.8h1.05v1.05h-1.05zM32.3 -9.4h1.05v1.05h-1.05zM34.5 -5.0h1.05v1.05h-1.05zM35.5 0.1h1.05v1.05h-1.05zM36.0 5.1h1.05v1.05h-1.05zM35.6 10.4h1.05v1.05h-1.05zM34.4 15.4h1.05v1.05h-1.05zM32.3 19.8h1.05v1.05h-1.05zM29.2 24.1h1.05v1.05h-1.05zM25.5 28.2h1.05v1.05h-1.05zM20.9 31.4h1.05v1.05h-1.05zM16.3 34.2h1.05v1.05h-1.05zM11.2 36.0h1.05v1.05h-1.05zM5.4 37.5h1.05v1.05h-1.05zM-0.1 37.5h1.05v1.05h-1.05zM-5.7 37.2h1.05v1.05h-1.05zM-11.1 36.1h1.05v1.05h-1.05zM-16.4 34.2h1.05v1.05h-1.05zM-21.4 31.6h1.05v1.05h-1.05zM33.3 12.6h1.05v1.05h-1.05zM31.8 17.5h1.05v1.05h-1.05zM30.0 22.2h1.05v1.05h-1.05zM26.7 26.2h1.05v1.05h-1.05zM22.6 30.3h1.05v1.05h-1.05zM18.0 33.3h1.05v1.05h-1.05zM13.1 35.5h1.05v1.05h-1.05zM7.2 37.3h1.05v1.05h-1.05zM2.0 38.1h1.05v1.05h-1.05zM-3.9 37.7h1.05v1.05h-1.05zM-9.4 36.5h1.05v1.05h-1.05zM-15.1 35.0h1.05v1.05h-1.05zM-19.7 32.1h1.05v1.05h-1.05zM-24.0 28.6h1.05v1.05h-1.05zM-27.8 24.6h1.05v1.05h-1.05zM-30.9 20.2h1.05v1.05h-1.05zM-32.9 15.4h1.05v1.05h-1.05zM-33.7 10.3h1.05v1.05h-1.05zM-33.7 5.0h1.05v1.05h-1.05zM-32.8 0.1h1.05v1.05h-1.05zM-31.0 -4.6h1.05v1.05h-1.05zM-28.4 -9.4h1.05v1.05h-1.05zM-24.7 -13.5h1.05v1.05h-1.05zM-20.1 -16.8h1.05v1.05h-1.05zM-15.5 -19.6h1.05v1.05h-1.05zM-10.2 -21.3h1.05v1.05h-1.05zM-4.5 -22.6h1.05v1.05h-1.05zM1.0 -22.9h1.05v1.05h-1.05zM6.6 -22.4h1.05v1.05h-1.05zM12.1 -20.8h1.05v1.05h-1.05zM17.7 -18.5h1.05v1.05h-1.05zM22.2 -15.7h1.05v1.05h-1.05zM26.1 -11.9h1.05v1.05h-1.05zM29.4 -7.7h1.05v1.05h-1.05zM31.7 -2.8h1.05v1.05h-1.05zM33.5 2.2h1.05v1.05h-1.05zM33.9 7.0h1.05v1.05h-1.05zM-9.7 36.2h1.05v1.05h-1.05zM-15.1 33.9h1.05v1.05h-1.05zM-19.7 30.8h1.05v1.05h-1.05zM-23.6 27.2h1.05v1.05h-1.05zM-26.8 23.0h1.05v1.05h-1.05zM-29.1 18.4h1.05v1.05h-1.05zM-30.5 13.4h1.05v1.05h-1.05zM-30.5 8.4h1.05v1.05h-1.05zM-29.9 3.2h1.05v1.05h-1.05zM-27.9 -1.5h1.05v1.05h-1.05zM-25.2 -5.8h1.05v1.05h-1.05zM-21.8 -9.9h1.05v1.05h-1.05zM-17.2 -13.2h1.05v1.05h-1.05zM-12.0 -15.4h1.05v1.05h-1.05zM-6.9 -17.2h1.05v1.05h-1.05zM-1.1 -17.8h1.05v1.05h-1.05zM4.3 -17.5h1.05v1.05h-1.05zM9.8 -16.7h1.05v1.05h-1.05zM15.2 -14.3h1.05v1.05h-1.05zM19.7 -11.5h1.05v1.05h-1.05zM24.0 -7.7h1.05v1.05h-1.05zM26.9 -3.4h1.05v1.05h-1.05zM29.2 1.0h1.05v1.05h-1.05zM30.5 6.2h1.05v1.05h-1.05zM30.9 11.2h1.05v1.05h-1.05zM30.0 16.1h1.05v1.05h-1.05zM27.8 21.0h1.05v1.05h-1.05zM25.1 25.7h1.05v1.05h-1.05zM21.6 29.4h1.05v1.05h-1.05zM17.4 32.5h1.05v1.05h-1.05zM12.4 35.0h1.05v1.05h-1.05zM6.7 36.7h1.05v1.05h-1.05zM1.2 37.6h1.05v1.05h-1.05zM-4.4 36.9h1.05v1.05h-1.05zM26.5 14.5h1.05v1.05h-1.05zM25.6 19.2h1.05v1.05h-1.05zM23.0 24.0h1.05v1.05h-1.05zM20.0 28.3h1.05v1.05h-1.05zM15.7 31.5h1.05v1.05h-1.05zM10.7 33.8h1.05v1.05h-1.05zM5.3 35.2h1.05v1.05h-1.05zM-0.4 36.0h1.05v1.05h-1.05zM-5.8 35.4h1.05v1.05h-1.05zM-11.2 33.6h1.05v1.05h-1.05zM-16.0 31.1h1.05v1.05h-1.05zM-20.3 27.8h1.05v1.05h-1.05zM-23.2 23.4h1.05v1.05h-1.05zM-25.8 19.1h1.05v1.05h-1.05zM-26.6 13.8h1.05v1.05h-1.05zM-26.6 8.8h1.05v1.05h-1.05zM-25.3 4.0h1.05v1.05h-1.05zM-23.1 -0.8h1.05v1.05h-1.05zM-19.8 -4.7h1.05v1.05h-1.05zM-15.6 -8.2h1.05v1.05h-1.05zM-10.8 -10.4h1.05v1.05h-1.05zM-5.1 -11.9h1.05v1.05h-1.05zM0.4 -12.4h1.05v1.05h-1.05zM5.7 -12.1h1.05v1.05h-1.05zM11.3 -10.6h1.05v1.05h-1.05zM15.8 -7.6h1.05v1.05h-1.05zM20.0 -4.5h1.05v1.05h-1.05zM23.4 -0.0h1.05v1.05h-1.05zM25.4 4.7h1.05v1.05h-1.05zM26.7 9.5h1.05v1.05h-1.05zM-22.2 17.0h1.05v1.05h-1.05zM-22.4 11.9h1.05v1.05h-1.05zM-20.9 6.8h1.05v1.05h-1.05zM-18.4 2.1h1.05v1.05h-1.05zM-15.2 -1.5h1.05v1.05h-1.05zM-10.7 -4.3h1.05v1.05h-1.05zM-5.2 -6.0h1.05v1.05h-1.05zM0.3 -7.0h1.05v1.05h-1.05zM6.1 -6.2h1.05v1.05h-1.05zM11.0 -4.3h1.05v1.05h-1.05zM15.6 -1.1h1.05v1.05h-1.05zM18.9 2.6h1.05v1.05h-1.05zM21.3 7.6h1.05v1.05h-1.05zM22.1 12.3h1.05v1.05h-1.05zM21.9 17.5h1.05v1.05h-1.05zM20.2 22.3h1.05v1.05h-1.05zM17.2 26.3h1.05v1.05h-1.05zM13.0 29.6h1.05v1.05h-1.05zM7.7 32.0h1.05v1.05h-1.05zM2.6 33.4h1.05v1.05h-1.05zM-3.0 33.5h1.05v1.05h-1.05zM-8.3 32.0h1.05v1.05h-1.05zM-13.5 29.7h1.05v1.05h-1.05zM-17.3 25.8h1.05v1.05h-1.05zM-20.3 21.4h1.05v1.05h-1.05zM17.2 16.5h1.05v1.05h-1.05zM15.8 21.5h1.05v1.05h-1.05zM12.2 25.7h1.05v1.05h-1.05zM8.0 28.7h1.05v1.05h-1.05zM2.4 30.0h1.05v1.05h-1.05zM-3.5 30.0h1.05v1.05h-1.05zM-8.4 28.0h1.05v1.05h-1.05zM-12.8 25.1h1.05v1.05h-1.05zM-16.1 20.8h1.05v1.05h-1.05zM-17.4 15.5h1.05v1.05h-1.05zM-16.6 10.7h1.05v1.05h-1.05zM-14.2 5.7h1.05v1.05h-1.05zM-10.0 2.3h1.05v1.05h-1.05zM-5.0 -0.2h1.05v1.05h-1.05zM0.4 -1.0h1.05v1.05h-1.05zM5.9 0.1h1.05v1.05h-1.05zM10.9 2.8h1.05v1.05h-1.05zM14.9 6.5h1.05v1.05h-1.05zM17.0 11.4h1.05v1.05h-1.05zM-6.7 24.7h1.05v1.05h-1.05zM-10.3 20.5h1.05v1.05h-1.05zM-11.6 15.7h1.05v1.05h-1.05zM-10.5 11.0h1.05v1.05h-1.05zM-6.9 7.0h1.05v1.05h-1.05zM-1.5 5.4h1.05v1.05h-1.05zM3.9 6.0h1.05v1.05h-1.05zM8.8 8.5h1.05v1.05h-1.05zM11.5 13.2h1.05v1.05h-1.05zM11.5 18.2h1.05v1.05h-1.05zM8.8 22.7h1.05v1.05h-1.05zM4.1 25.6h1.05v1.05h-1.05zM-1.4 26.0h1.05v1.05h-1.05zM0.6 21.6h1.05v1.05h-1.05zM-4.2 20.2h1.05v1.05h-1.05zM-6.0 15.8h1.05v1.05h-1.05zM-3.2 11.7h1.05v1.05h-1.05zM1.8 11.5h1.05v1.05h-1.05zM5.8 14.7h1.05v1.05h-1.05zM4.9 19.0h1.05v1.05h-1.05zM-0.1 16.5h1.05v1.05h-1.05z" fill="#2f8fd0" fill-opacity="0.9"/></g>
<g id="dsN"><path d="M0.0 -9.2h1.0v1.0h-1.0zM-3.4 -11.5h1.0v1.0h-1.0zM-0.3 -12.7h1.0v1.0h-1.0zM3.2 -11.6h1.0v1.0h-1.0zM4.5 -8.2h1.0v1.0h-1.0zM2.1 -5.4h1.0v1.0h-1.0zM-1.7 -5.5h1.0v1.0h-1.0zM-4.2 -7.8h1.0v1.0h-1.0zM-8.3 -9.4h1.0v1.0h-1.0zM-7.1 -12.7h1.0v1.0h-1.0zM-3.7 -15.3h1.0v1.0h-1.0zM-0.0 -15.9h1.0v1.0h-1.0zM4.1 -15.0h1.0v1.0h-1.0zM7.3 -12.4h1.0v1.0h-1.0zM8.7 -9.1h1.0v1.0h-1.0zM8.1 -5.5h1.0v1.0h-1.0zM5.7 -2.3h1.0v1.0h-1.0zM1.6 -1.0h1.0v1.0h-1.0zM-2.4 -0.7h1.0v1.0h-1.0zM-5.9 -2.7h1.0v1.0h-1.0zM-8.2 -5.8h1.0v1.0h-1.0zM-9.4 -0.0h1.0v1.0h-1.0zM-11.5 -3.2h1.0v1.0h-1.0zM-12.3 -7.0h1.0v1.0h-1.0zM-11.5 -10.7h1.0v1.0h-1.0zM-9.5 -14.5h1.0v1.0h-1.0zM-6.2 -16.7h1.0v1.0h-1.0zM-2.2 -18.3h1.0v1.0h-1.0zM2.0 -18.5h1.0v1.0h-1.0zM6.1 -17.1h1.0v1.0h-1.0zM9.2 -14.9h1.0v1.0h-1.0zM11.7 -11.1h1.0v1.0h-1.0zM12.1 -7.5h1.0v1.0h-1.0zM11.6 -4.0h1.0v1.0h-1.0zM9.5 -0.3h1.0v1.0h-1.0zM6.6 1.9h1.0v1.0h-1.0zM2.4 3.3h1.0v1.0h-1.0zM-1.8 3.5h1.0v1.0h-1.0zM-5.8 2.6h1.0v1.0h-1.0zM-15.3 -6.7h1.0v1.0h-1.0zM-15.1 -10.3h1.0v1.0h-1.0zM-13.3 -14.0h1.0v1.0h-1.0zM-10.3 -16.6h1.0v1.0h-1.0zM-6.9 -19.0h1.0v1.0h-1.0zM-2.5 -20.1h1.0v1.0h-1.0zM1.8 -19.9h1.0v1.0h-1.0zM5.7 -19.2h1.0v1.0h-1.0zM9.4 -17.2h1.0v1.0h-1.0zM12.5 -14.6h1.0v1.0h-1.0zM14.6 -11.0h1.0v1.0h-1.0zM15.5 -7.6h1.0v1.0h-1.0zM15.5 -3.9h1.0v1.0h-1.0zM14.0 0.2h1.0v1.0h-1.0zM11.8 3.1h1.0v1.0h-1.0zM8.3 5.6h1.0v1.0h-1.0zM4.8 7.0h1.0v1.0h-1.0zM0.6 8.0h1.0v1.0h-1.0zM-3.9 7.6h1.0v1.0h-1.0zM-7.7 6.2h1.0v1.0h-1.0zM-11.1 3.9h1.0v1.0h-1.0zM-13.5 0.5h1.0v1.0h-1.0zM-15.4 -2.7h1.0v1.0h-1.0zM17.6 -8.3h1.0v1.0h-1.0zM18.2 -4.6h1.0v1.0h-1.0zM17.6 -0.8h1.0v1.0h-1.0zM16.2 2.9h1.0v1.0h-1.0zM13.8 5.9h1.0v1.0h-1.0zM11.0 8.4h1.0v1.0h-1.0zM7.2 10.6h1.0v1.0h-1.0zM3.0 11.4h1.0v1.0h-1.0zM-0.9 11.6h1.0v1.0h-1.0zM-5.4 11.1h1.0v1.0h-1.0zM-9.0 9.4h1.0v1.0h-1.0zM-12.6 7.2h1.0v1.0h-1.0zM-15.0 4.4h1.0v1.0h-1.0zM-16.9 0.8h1.0v1.0h-1.0zM-18.1 -2.6h1.0v1.0h-1.0zM-17.9 -6.5h1.0v1.0h-1.0zM-17.2 -10.4h1.0v1.0h-1.0zM-15.2 -13.7h1.0v1.0h-1.0zM-12.3 -16.3h1.0v1.0h-1.0zM-9.2 -18.9h1.0v1.0h-1.0zM-5.0 -20.2h1.0v1.0h-1.0zM-0.9 -21.0h1.0v1.0h-1.0zM3.0 -20.8h1.0v1.0h-1.0zM7.4 -19.7h1.0v1.0h-1.0zM10.8 -17.7h1.0v1.0h-1.0zM13.9 -15.1h1.0v1.0h-1.0zM16.5 -12.1h1.0v1.0h-1.0zM20.2 -2.1h1.0v1.0h-1.0zM19.6 1.4h1.0v1.0h-1.0zM18.2 5.2h1.0v1.0h-1.0zM15.7 8.3h1.0v1.0h-1.0zM13.1 11.0h1.0v1.0h-1.0zM9.5 12.9h1.0v1.0h-1.0zM5.5 14.3h1.0v1.0h-1.0zM1.3 15.2h1.0v1.0h-1.0zM-2.8 15.2h1.0v1.0h-1.0zM-7.0 14.3h1.0v1.0h-1.0zM-10.4 12.7h1.0v1.0h-1.0zM-13.6 10.4h1.0v1.0h-1.0zM-16.5 7.1h1.0v1.0h-1.0zM-18.4 3.8h1.0v1.0h-1.0zM-19.7 0.5h1.0v1.0h-1.0zM-20.0 -3.4h1.0v1.0h-1.0zM-19.2 -7.0h1.0v1.0h-1.0zM-18.1 -10.7h1.0v1.0h-1.0zM-15.6 -13.8h1.0v1.0h-1.0zM-12.8 -16.6h1.0v1.0h-1.0zM-9.6 -18.6h1.0v1.0h-1.0zM-5.5 -20.2h1.0v1.0h-1.0zM-1.4 -20.5h1.0v1.0h-1.0zM2.8 -20.5h1.0v1.0h-1.0zM6.5 -19.7h1.0v1.0h-1.0zM10.7 -18.4h1.0v1.0h-1.0zM13.7 -15.9h1.0v1.0h-1.0zM16.5 -13.0h1.0v1.0h-1.0zM18.5 -9.5h1.0v1.0h-1.0zM19.4 -6.3h1.0v1.0h-1.0zM14.4 12.3h1.0v1.0h-1.0zM11.5 15.0h1.0v1.0h-1.0zM7.3 16.6h1.0v1.0h-1.0zM3.4 17.5h1.0v1.0h-1.0zM-0.8 17.9h1.0v1.0h-1.0zM-4.9 17.2h1.0v1.0h-1.0zM-9.1 16.0h1.0v1.0h-1.0zM-12.7 14.1h1.0v1.0h-1.0zM-15.6 11.4h1.0v1.0h-1.0zM-18.3 8.2h1.0v1.0h-1.0zM-19.9 5.0h1.0v1.0h-1.0zM-20.6 1.1h1.0v1.0h-1.0zM-20.7 -2.5h1.0v1.0h-1.0zM-20.0 -6.4h1.0v1.0h-1.0zM-18.4 -9.8h1.0v1.0h-1.0zM-16.1 -12.9h1.0v1.0h-1.0zM-13.0 -15.8h1.0v1.0h-1.0zM-9.4 -17.6h1.0v1.0h-1.0zM-5.7 -19.1h1.0v1.0h-1.0zM-1.4 -19.5h1.0v1.0h-1.0zM3.1 -19.6h1.0v1.0h-1.0zM7.2 -18.5h1.0v1.0h-1.0zM10.7 -17.1h1.0v1.0h-1.0zM14.0 -14.6h1.0v1.0h-1.0zM17.1 -11.7h1.0v1.0h-1.0zM19.2 -8.5h1.0v1.0h-1.0zM20.5 -5.0h1.0v1.0h-1.0zM20.7 -1.2h1.0v1.0h-1.0zM20.3 2.4h1.0v1.0h-1.0zM19.4 6.0h1.0v1.0h-1.0zM17.1 9.4h1.0v1.0h-1.0zM15.1 -12.1h1.0v1.0h-1.0zM18.0 -9.0h1.0v1.0h-1.0zM19.8 -5.3h1.0v1.0h-1.0zM20.8 -1.5h1.0v1.0h-1.0zM20.9 2.2h1.0v1.0h-1.0zM19.9 6.0h1.0v1.0h-1.0zM18.7 9.5h1.0v1.0h-1.0zM16.2 12.7h1.0v1.0h-1.0zM13.7 15.1h1.0v1.0h-1.0zM9.9 17.5h1.0v1.0h-1.0zM6.2 18.8h1.0v1.0h-1.0zM1.8 19.6h1.0v1.0h-1.0zM-2.2 19.8h1.0v1.0h-1.0zM-6.5 18.8h1.0v1.0h-1.0zM-10.4 17.2h1.0v1.0h-1.0zM-13.8 14.9h1.0v1.0h-1.0zM-16.6 12.6h1.0v1.0h-1.0zM-18.9 9.2h1.0v1.0h-1.0zM-20.4 5.6h1.0v1.0h-1.0zM-20.7 1.8h1.0v1.0h-1.0zM-20.6 -2.1h1.0v1.0h-1.0zM-19.4 -5.5h1.0v1.0h-1.0zM-17.8 -9.3h1.0v1.0h-1.0zM-14.9 -11.9h1.0v1.0h-1.0zM-11.8 -14.6h1.0v1.0h-1.0zM-8.0 -16.6h1.0v1.0h-1.0zM-4.1 -17.6h1.0v1.0h-1.0zM0.2 -17.9h1.0v1.0h-1.0zM4.3 -17.3h1.0v1.0h-1.0zM8.6 -16.4h1.0v1.0h-1.0zM12.2 -14.4h1.0v1.0h-1.0zM12.1 -11.6h1.0v1.0h-1.0zM15.0 -9.1h1.0v1.0h-1.0zM17.5 -5.9h1.0v1.0h-1.0zM19.0 -2.4h1.0v1.0h-1.0zM19.8 1.5h1.0v1.0h-1.0zM19.6 5.4h1.0v1.0h-1.0zM18.8 8.8h1.0v1.0h-1.0zM17.0 12.3h1.0v1.0h-1.0zM14.7 15.2h1.0v1.0h-1.0zM11.4 17.7h1.0v1.0h-1.0zM7.9 19.4h1.0v1.0h-1.0zM3.8 20.7h1.0v1.0h-1.0zM-0.5 20.7h1.0v1.0h-1.0zM-4.7 20.4h1.0v1.0h-1.0zM-8.5 19.3h1.0v1.0h-1.0zM-11.9 17.0h1.0v1.0h-1.0zM-15.3 14.4h1.0v1.0h-1.0zM-17.7 11.6h1.0v1.0h-1.0zM-19.0 8.2h1.0v1.0h-1.0zM-20.0 4.5h1.0v1.0h-1.0zM-19.9 0.5h1.0v1.0h-1.0zM-18.7 -3.3h1.0v1.0h-1.0zM-17.3 -6.4h1.0v1.0h-1.0zM-14.6 -9.6h1.0v1.0h-1.0zM-11.3 -11.9h1.0v1.0h-1.0zM-8.0 -13.9h1.0v1.0h-1.0zM-3.7 -14.9h1.0v1.0h-1.0zM0.3 -15.1h1.0v1.0h-1.0zM4.8 -14.7h1.0v1.0h-1.0zM8.6 -13.6h1.0v1.0h-1.0zM-2.7 20.6h1.0v1.0h-1.0zM-6.7 19.9h1.0v1.0h-1.0zM-10.8 18.1h1.0v1.0h-1.0zM-13.8 15.5h1.0v1.0h-1.0zM-16.0 12.1h1.0v1.0h-1.0zM-17.5 8.7h1.0v1.0h-1.0zM-18.0 4.8h1.0v1.0h-1.0zM-17.6 1.3h1.0v1.0h-1.0zM-16.3 -2.5h1.0v1.0h-1.0zM-14.3 -5.7h1.0v1.0h-1.0zM-11.2 -8.3h1.0v1.0h-1.0zM-7.4 -10.3h1.0v1.0h-1.0zM-3.7 -11.4h1.0v1.0h-1.0zM0.8 -12.0h1.0v1.0h-1.0zM5.1 -11.1h1.0v1.0h-1.0zM8.6 -9.6h1.0v1.0h-1.0zM12.0 -7.6h1.0v1.0h-1.0zM15.1 -4.6h1.0v1.0h-1.0zM17.0 -1.3h1.0v1.0h-1.0zM18.0 2.3h1.0v1.0h-1.0zM17.9 5.9h1.0v1.0h-1.0zM17.3 10.0h1.0v1.0h-1.0zM15.4 13.4h1.0v1.0h-1.0zM12.7 16.1h1.0v1.0h-1.0zM9.3 18.8h1.0v1.0h-1.0zM5.3 20.2h1.0v1.0h-1.0zM1.3 21.0h1.0v1.0h-1.0zM-9.6 17.2h1.0v1.0h-1.0zM-12.5 14.7h1.0v1.0h-1.0zM-14.6 11.4h1.0v1.0h-1.0zM-15.7 7.4h1.0v1.0h-1.0zM-15.6 3.5h1.0v1.0h-1.0zM-13.9 0.1h1.0v1.0h-1.0zM-11.9 -3.3h1.0v1.0h-1.0zM-8.5 -5.6h1.0v1.0h-1.0zM-4.5 -7.2h1.0v1.0h-1.0zM-0.4 -8.1h1.0v1.0h-1.0zM3.7 -7.7h1.0v1.0h-1.0zM7.7 -6.1h1.0v1.0h-1.0zM10.9 -3.9h1.0v1.0h-1.0zM13.8 -0.9h1.0v1.0h-1.0zM15.3 3.1h1.0v1.0h-1.0zM15.8 6.6h1.0v1.0h-1.0zM14.9 10.5h1.0v1.0h-1.0zM13.1 14.1h1.0v1.0h-1.0zM10.3 16.7h1.0v1.0h-1.0zM6.8 18.8h1.0v1.0h-1.0zM2.6 20.1h1.0v1.0h-1.0zM-1.9 20.2h1.0v1.0h-1.0zM-5.7 19.2h1.0v1.0h-1.0zM-12.2 5.6h1.0v1.0h-1.0zM-10.8 1.9h1.0v1.0h-1.0zM-8.2 -0.9h1.0v1.0h-1.0zM-4.5 -2.9h1.0v1.0h-1.0zM-0.1 -3.5h1.0v1.0h-1.0zM3.7 -3.0h1.0v1.0h-1.0zM7.7 -1.5h1.0v1.0h-1.0zM10.5 1.5h1.0v1.0h-1.0zM11.9 5.2h1.0v1.0h-1.0zM12.4 8.9h1.0v1.0h-1.0zM11.0 12.8h1.0v1.0h-1.0zM8.0 15.9h1.0v1.0h-1.0zM4.6 17.9h1.0v1.0h-1.0zM0.4 18.6h1.0v1.0h-1.0zM-4.0 18.1h1.0v1.0h-1.0zM-7.5 16.3h1.0v1.0h-1.0zM-10.6 13.3h1.0v1.0h-1.0zM-12.1 9.4h1.0v1.0h-1.0zM8.0 10.2h1.0v1.0h-1.0zM6.1 13.6h1.0v1.0h-1.0zM2.9 15.6h1.0v1.0h-1.0zM-1.3 16.0h1.0v1.0h-1.0zM-5.1 14.5h1.0v1.0h-1.0zM-7.5 11.7h1.0v1.0h-1.0zM-8.7 8.3h1.0v1.0h-1.0zM-7.3 4.5h1.0v1.0h-1.0zM-4.7 1.9h1.0v1.0h-1.0zM-0.8 0.5h1.0v1.0h-1.0zM3.0 1.1h1.0v1.0h-1.0zM6.7 3.2h1.0v1.0h-1.0zM8.3 6.6h1.0v1.0h-1.0zM0.9 12.7h1.0v1.0h-1.0zM-2.8 11.8h1.0v1.0h-1.0zM-4.6 8.9h1.0v1.0h-1.0zM-2.8 5.7h1.0v1.0h-1.0zM0.6 5.1h1.0v1.0h-1.0zM3.8 7.2h1.0v1.0h-1.0zM3.8 10.5h1.0v1.0h-1.0zM-0.2 9.4h1.0v1.0h-1.0z" fill="#ece09a" fill-opacity="0.8"/></g>
<radialGradient id="hO" cx="0.5" cy="0.5" r="0.5">
  <stop offset="0" stop-color="#f08050" stop-opacity="0.10"/><stop offset="0.8" stop-color="#f08050" stop-opacity="0.16"/>
  <stop offset="0.95" stop-color="#f08050" stop-opacity="0.26"/><stop offset="1" stop-color="#f08050" stop-opacity="0"/>
</radialGradient>
<radialGradient id="hB" cx="0.5" cy="0.5" r="0.5">
  <stop offset="0" stop-color="#3a96d2" stop-opacity="0.10"/><stop offset="0.8" stop-color="#3a96d2" stop-opacity="0.16"/>
  <stop offset="0.95" stop-color="#3a96d2" stop-opacity="0.26"/><stop offset="1" stop-color="#3a96d2" stop-opacity="0"/>
</radialGradient>
<radialGradient id="hN" cx="0.5" cy="0.5" r="0.5">
  <stop offset="0" stop-color="#f4eeb0" stop-opacity="0.10"/><stop offset="0.9" stop-color="#f4eeb0" stop-opacity="0.18"/>
  <stop offset="1" stop-color="#f4eeb0" stop-opacity="0"/>
</radialGradient>
</defs>
<g id="crystal">
<use href="#dsN" x="1098.2" y="67.2"/>
<use href="#dsN" x="1098.2" y="182.3"/>
<use href="#dsN" x="1045.6" y="232.2"/>
<use href="#dsN" x="1150.2" y="239.8"/>
<use href="#dsN" x="1150.2" y="356.1"/>
<use href="#dsN" x="1098.2" y="403.6"/>
<use href="#dsN" x="1150.2" y="477.2"/>
<use href="#dsO" x="1045.6" y="73.2"/>
<use href="#dsO" x="1150.2" y="80.1"/>
<use href="#dsB" x="1098.2" y="127.2"/>
<use href="#dsB" x="1045.6" y="176.5"/>
<use href="#dsB" x="1150.2" y="183.8"/>
<use href="#dsB" x="1098.2" y="238.8"/>
<use href="#dsB" x="1045.6" y="289.2"/>
<use href="#dsB" x="1150.2" y="296.5"/>
<use href="#dsO" x="1098.2" y="342.8"/>
<use href="#dsO" x="1045.6" y="410.0"/>
<use href="#dsO" x="1150.2" y="416.3"/>
<use href="#dsO" x="1098.2" y="464.1"/>
<use href="#dsO" x="1072.7" y="84.3"/>
<use href="#dsB" x="1020.6" y="132.4"/>
<use href="#dsB" x="1124.9" y="139.3"/>
<use href="#dsB" x="1072.7" y="195.8"/>
<use href="#dsB" x="1020.6" y="234.8"/>
<use href="#dsB" x="1124.9" y="242.2"/>
<use href="#dsB" x="1072.7" y="298.9"/>
<use href="#dsO" x="1020.6" y="347.2"/>
<use href="#dsO" x="1124.9" y="354.1"/>
<use href="#dsO" x="1072.7" y="419.3"/>
<use href="#dsO" x="1020.6" y="468.7"/>
<use href="#dsO" x="1124.9" y="475.6"/>
<path d="M1045.6,64 L1045.5,520.4 M1150,71 L1150,528 M995.5,534.7 L1045.5,520.4 M1045.5,520.4 L1150,528 M1150,528 L1099.6,542.2 M1099.6,542.2 L995.5,534.7" stroke="#6e6e6e" stroke-width="1.3" fill="none"/>
<circle cx="1098.2" cy="67.2" r="7.7" fill="url(#gN)" stroke="#b8b48a" stroke-width="0.6"/>
<circle cx="1045.6" cy="73.2" r="15.3" fill="url(#gO)" stroke="#9a4a22" stroke-width="0.8"/>
<circle cx="1150.2" cy="80.1" r="15.3" fill="url(#gO)" stroke="#9a4a22" stroke-width="0.8"/>
<circle cx="1098.2" cy="127.2" r="14.9" fill="url(#gB)" stroke="#0a4a78" stroke-width="0.8"/>
<circle cx="1045.6" cy="176.5" r="14.9" fill="url(#gB)" stroke="#0a4a78" stroke-width="0.8"/>
<circle cx="1098.2" cy="182.3" r="7.7" fill="url(#gN)" stroke="#b8b48a" stroke-width="0.6"/>
<circle cx="1150.2" cy="183.8" r="14.9" fill="url(#gB)" stroke="#0a4a78" stroke-width="0.8"/>
<circle cx="1045.6" cy="232.2" r="7.7" fill="url(#gN)" stroke="#b8b48a" stroke-width="0.6"/>
<circle cx="1098.2" cy="238.8" r="14.9" fill="url(#gB)" stroke="#0a4a78" stroke-width="0.8"/>
<circle cx="1150.2" cy="239.8" r="7.7" fill="url(#gN)" stroke="#b8b48a" stroke-width="0.6"/>
<circle cx="1045.6" cy="289.2" r="14.9" fill="url(#gB)" stroke="#0a4a78" stroke-width="0.8"/>
<circle cx="1150.2" cy="296.5" r="14.9" fill="url(#gB)" stroke="#0a4a78" stroke-width="0.8"/>
<circle cx="1098.2" cy="342.8" r="15.3" fill="url(#gO)" stroke="#9a4a22" stroke-width="0.8"/>
<circle cx="1150.2" cy="356.1" r="7.7" fill="url(#gN)" stroke="#b8b48a" stroke-width="0.6"/>
<circle cx="1098.2" cy="403.6" r="7.7" fill="url(#gN)" stroke="#b8b48a" stroke-width="0.6"/>
<circle cx="1045.6" cy="410.0" r="15.3" fill="url(#gO)" stroke="#9a4a22" stroke-width="0.8"/>
<circle cx="1150.2" cy="416.3" r="15.3" fill="url(#gO)" stroke="#9a4a22" stroke-width="0.8"/>
<circle cx="1098.2" cy="464.1" r="15.3" fill="url(#gO)" stroke="#9a4a22" stroke-width="0.8"/>
<circle cx="1150.2" cy="477.2" r="7.7" fill="url(#gN)" stroke="#b8b48a" stroke-width="0.6"/>
<use href="#dsO" x="995.4" y="88.3"/>
<use href="#dsO" x="1099.9" y="95.4"/>
<use href="#dsB" x="1047.6" y="141.5"/>
<use href="#dsB" x="995.4" y="191.5"/>
<use href="#dsB" x="1099.9" y="198.6"/>
<use href="#dsB" x="1047.6" y="254.7"/>
<use href="#dsB" x="995.4" y="304.1"/>
<use href="#dsB" x="1099.9" y="308.5"/>
<use href="#dsO" x="1047.6" y="357.7"/>
<use href="#dsO" x="995.4" y="423.6"/>
<use href="#dsO" x="1099.9" y="430.8"/>
<use href="#dsO" x="1047.6" y="479.6"/>
<use href="#dsN" x="1020.6" y="72.4"/>
<use href="#dsN" x="1124.9" y="79.4"/>
<use href="#dsN" x="1072.7" y="141.4"/>
<use href="#dsN" x="1020.6" y="289.6"/>
<use href="#dsN" x="1124.9" y="297.1"/>
<use href="#dsN" x="1072.7" y="358.1"/>
<use href="#dsN" x="1020.6" y="407.0"/>
<use href="#dsN" x="1124.9" y="414.3"/>
<use href="#dsN" x="1072.7" y="480.6"/>
<circle cx="1020.6" cy="72.4" r="7.7" fill="url(#gN)" stroke="#b8b48a" stroke-width="0.6"/>
<circle cx="1124.9" cy="79.4" r="7.7" fill="url(#gN)" stroke="#b8b48a" stroke-width="0.6"/>
<circle cx="1072.7" cy="84.3" r="15.3" fill="url(#gO)" stroke="#9a4a22" stroke-width="0.8"/>
<circle cx="1020.6" cy="132.4" r="14.9" fill="url(#gB)" stroke="#0a4a78" stroke-width="0.8"/>
<circle cx="1124.9" cy="139.3" r="14.9" fill="url(#gB)" stroke="#0a4a78" stroke-width="0.8"/>
<circle cx="1072.7" cy="141.4" r="7.7" fill="url(#gN)" stroke="#b8b48a" stroke-width="0.6"/>
<circle cx="1072.7" cy="195.8" r="14.9" fill="url(#gB)" stroke="#0a4a78" stroke-width="0.8"/>
<circle cx="1020.6" cy="234.8" r="14.9" fill="url(#gB)" stroke="#0a4a78" stroke-width="0.8"/>
<circle cx="1124.9" cy="242.2" r="14.9" fill="url(#gB)" stroke="#0a4a78" stroke-width="0.8"/>
<circle cx="1020.6" cy="289.6" r="7.7" fill="url(#gN)" stroke="#b8b48a" stroke-width="0.6"/>
<circle cx="1124.9" cy="297.1" r="7.7" fill="url(#gN)" stroke="#b8b48a" stroke-width="0.6"/>
<circle cx="1072.7" cy="298.9" r="14.9" fill="url(#gB)" stroke="#0a4a78" stroke-width="0.8"/>
<circle cx="1020.6" cy="347.2" r="15.3" fill="url(#gO)" stroke="#9a4a22" stroke-width="0.8"/>
<circle cx="1124.9" cy="354.1" r="15.3" fill="url(#gO)" stroke="#9a4a22" stroke-width="0.8"/>
<circle cx="1072.7" cy="358.1" r="7.7" fill="url(#gN)" stroke="#b8b48a" stroke-width="0.6"/>
<circle cx="1020.6" cy="407.0" r="7.7" fill="url(#gN)" stroke="#b8b48a" stroke-width="0.6"/>
<circle cx="1124.9" cy="414.3" r="7.7" fill="url(#gN)" stroke="#b8b48a" stroke-width="0.6"/>
<circle cx="1072.7" cy="419.3" r="15.3" fill="url(#gO)" stroke="#9a4a22" stroke-width="0.8"/>
<circle cx="1020.6" cy="468.7" r="15.3" fill="url(#gO)" stroke="#9a4a22" stroke-width="0.8"/>
<circle cx="1124.9" cy="475.6" r="15.3" fill="url(#gO)" stroke="#9a4a22" stroke-width="0.8"/>
<circle cx="1072.7" cy="480.6" r="7.7" fill="url(#gN)" stroke="#b8b48a" stroke-width="0.6"/>
<use href="#dsN" x="1047.6" y="82.1"/>
<use href="#dsN" x="1047.6" y="198.6"/>
<use href="#dsN" x="995.4" y="247.8"/>
<use href="#dsN" x="1099.9" y="254.7"/>
<use href="#dsN" x="995.4" y="363.7"/>
<use href="#dsN" x="1099.9" y="370.6"/>
<use href="#dsN" x="1047.6" y="417.9"/>
<use href="#dsN" x="995.4" y="485.0"/>
<use href="#dsN" x="1099.9" y="491.9"/>
<path d="M995.3,78.5 L995.5,534.7 M1099.9,86 L1099.6,542.2" stroke="#6e6e6e" stroke-width="1.3" fill="none"/>
<circle cx="1047.6" cy="82.1" r="7.7" fill="url(#gN)" stroke="#b8b48a" stroke-width="0.6"/>
<circle cx="995.4" cy="88.3" r="15.3" fill="url(#gO)" stroke="#9a4a22" stroke-width="0.8"/>
<circle cx="1099.9" cy="95.4" r="15.3" fill="url(#gO)" stroke="#9a4a22" stroke-width="0.8"/>
<circle cx="1047.6" cy="141.5" r="14.9" fill="url(#gB)" stroke="#0a4a78" stroke-width="0.8"/>
<circle cx="995.4" cy="191.5" r="14.9" fill="url(#gB)" stroke="#0a4a78" stroke-width="0.8"/>
<circle cx="1099.9" cy="198.6" r="14.9" fill="url(#gB)" stroke="#0a4a78" stroke-width="0.8"/>
<circle cx="1047.6" cy="198.6" r="7.7" fill="url(#gN)" stroke="#b8b48a" stroke-width="0.6"/>
<circle cx="995.4" cy="247.8" r="7.7" fill="url(#gN)" stroke="#b8b48a" stroke-width="0.6"/>
<circle cx="1047.6" cy="254.7" r="14.9" fill="url(#gB)" stroke="#0a4a78" stroke-width="0.8"/>
<circle cx="1099.9" cy="254.7" r="7.7" fill="url(#gN)" stroke="#b8b48a" stroke-width="0.6"/>
<circle cx="995.4" cy="304.1" r="14.9" fill="url(#gB)" stroke="#0a4a78" stroke-width="0.8"/>
<circle cx="1099.9" cy="308.5" r="14.9" fill="url(#gB)" stroke="#0a4a78" stroke-width="0.8"/>
<circle cx="1047.6" cy="357.7" r="15.3" fill="url(#gO)" stroke="#9a4a22" stroke-width="0.8"/>
<circle cx="995.4" cy="363.7" r="7.7" fill="url(#gN)" stroke="#b8b48a" stroke-width="0.6"/>
<circle cx="1099.9" cy="370.6" r="7.7" fill="url(#gN)" stroke="#b8b48a" stroke-width="0.6"/>
<circle cx="1047.6" cy="417.9" r="7.7" fill="url(#gN)" stroke="#b8b48a" stroke-width="0.6"/>
<circle cx="995.4" cy="423.6" r="15.3" fill="url(#gO)" stroke="#9a4a22" stroke-width="0.8"/>
<circle cx="1099.9" cy="430.8" r="15.3" fill="url(#gO)" stroke="#9a4a22" stroke-width="0.8"/>
<circle cx="1047.6" cy="479.6" r="15.3" fill="url(#gO)" stroke="#9a4a22" stroke-width="0.8"/>
<circle cx="995.4" cy="485.0" r="7.7" fill="url(#gN)" stroke="#b8b48a" stroke-width="0.6"/>
<circle cx="1099.9" cy="491.9" r="7.7" fill="url(#gN)" stroke="#b8b48a" stroke-width="0.6"/>
<path d="M995.3,78.5 L1031,68.4 M1058.5,64.9 L1150,71 L1099.9,86 L995.3,78.5" stroke="#6e6e6e" stroke-width="1.3" fill="none"/>
<circle cx="1099.9" cy="95.4" r="15.3" fill="url(#gO)" stroke="#9a4a22" stroke-width="0.8"/>
<circle cx="1020.6" cy="72.4" r="7.7" fill="url(#gN)" stroke="#b8b48a" stroke-width="0.6"/>
<circle cx="1047.6" cy="82.1" r="7.7" fill="url(#gN)" stroke="#b8b48a" stroke-width="0.6"/>
<circle cx="1098.2" cy="67.2" r="7.7" fill="url(#gN)" stroke="#b8b48a" stroke-width="0.6"/>
<circle cx="1124.9" cy="79.4" r="7.7" fill="url(#gN)" stroke="#b8b48a" stroke-width="0.6"/>
<path d="M1125.5,139.8 L1214,111.9 M1125.5,243 L1214,214.9 M1125.3,355.7 L1214.2,328 M1125,475.8 L1214.2,448" stroke="#333" stroke-width="2" fill="none"/>
<path d="M1198.8,127.7 L1198.8,210.0" stroke="#3a3a3a" stroke-width="2.1"/><path d="M1198.8,117.7 L1205.6,133.7 L1198.8,130.4 L1192.0,133.7 Z" fill="#3a3a3a"/><path d="M1198.8,220.0 L1205.6,204.0 L1198.8,207.3 L1192.0,204.0 Z" fill="#3a3a3a"/>
<path d="M1198.6,343.2 L1198.6,442.5" stroke="#3a3a3a" stroke-width="2.1"/><path d="M1198.6,333.2 L1205.3999999999999,349.2 L1198.6,345.9 L1191.8,349.2 Z" fill="#3a3a3a"/><path d="M1198.6,452.5 L1205.3999999999999,436.5 L1198.6,439.8 L1191.8,436.5 Z" fill="#3a3a3a"/>
<path d="M995.4,511.6 V568.7 M1099.4,520.8 V576.3" stroke="#3a3a3a" stroke-width="2"/>
<path d="M1005,555.2 L1090,561.0" stroke="#3a3a3a" stroke-width="2.1"/>
<path d="M996.5,554.7 L1012.9,549.2 L1009.5,555.7 L1011.9,562.4 Z" fill="#3a3a3a"/>
<path d="M1098.9,561.4 L1084,554.2 L1086.4,560.8 L1083,567.7 Z" fill="#3a3a3a"/>
<text x="1205.4" y="176.0" font-size="24" font-weight="normal" fill="#333" text-anchor="start" stroke="#333" stroke-width="0.35">C</text>
<path d="M1221,185.7 H1233 M1227.0,185.7 V173.5" stroke="#3a3a3a" stroke-width="1.4" fill="none"/>
<text x="1239.5" y="186.5" font-size="19" fill="#3a3a3a">MoN<tspan font-size="14" dy="4">0.5</tspan></text>
<text x="1205.2" y="398.6" font-size="24" font-weight="normal" fill="#333" text-anchor="start" stroke="#333" stroke-width="0.35">C</text>
<path d="M1221,408.0 H1233 M1227.0,408.0 V395.8" stroke="#3a3a3a" stroke-width="1.4" fill="none"/>
<text x="1238" y="408.8" font-size="19" font-weight="normal" fill="#3a3a3a" text-anchor="start" textLength="31" lengthAdjust="spacingAndGlyphs" >TaN</text>
<text x="1027" y="589.2" font-size="30" font-weight="normal" fill="#3a3a3a" text-anchor="start" >a</text>
<path d="M1048.1,584 V603 M1051.1,584 V603" stroke="#3a3a3a" stroke-width="1.6"/>
</g>
<g id="plot">
<line x1="143.4" y1="222.1" x2="688.8" y2="222.1" stroke="#a3663f" stroke-width="3.3" stroke-dasharray="1.8 4.974" stroke-linecap="round"/>
<line x1="143.4" y1="302.7" x2="688.8" y2="302.7" stroke="#f8cfb5" stroke-width="3.3" stroke-dasharray="1.8 4.974" stroke-linecap="round"/>
<line x1="143.4" y1="324.35" x2="688.8" y2="324.35" stroke="#705091" stroke-width="3.3" stroke-dasharray="1.8 4.974" stroke-linecap="round"/>
<line x1="143.4" y1="370.35" x2="688.8" y2="370.35" stroke="#d4c4e4" stroke-width="3.3" stroke-dasharray="1.8 4.974" stroke-linecap="round"/>
<line x1="143.4" y1="438.2" x2="688.8" y2="438.2" stroke="#96cdf0" stroke-width="3.3" stroke-dasharray="1.8 4.974" stroke-linecap="round"/>
<rect x="458" y="314" width="157.5" height="20" fill="#fff"/>
<path d="M185.5,351.0 C188.8,350.9 199.4,351.2 205.0,350.5 C210.6,349.8 215.2,350.0 219.0,347.0 C222.8,344.0 225.3,337.0 228.1,332.5 C230.9,328.0 233.6,323.8 236.0,320.0 C238.4,316.2 240.4,313.4 242.7,309.5 C245.0,305.6 247.1,301.5 249.9,296.5 C252.8,291.5 256.7,284.5 259.8,279.5 C262.9,274.5 266.0,270.2 268.8,266.3 C271.6,262.4 273.7,259.6 276.7,256.3 C279.7,253.0 283.4,249.3 287.0,246.5 C290.6,243.7 294.5,241.3 298.5,239.4 C302.5,237.5 307.2,235.8 310.8,234.8 C314.4,233.8 316.0,233.8 320.0,233.5 C324.0,233.2 330.1,233.0 335.0,233.0 C339.9,233.0 343.0,233.0 349.2,233.4 C355.4,233.8 363.8,234.6 372.3,235.4 C380.8,236.2 390.4,237.4 400.0,238.5 C409.6,239.6 416.9,240.5 430.0,242.2 C443.1,243.9 462.3,246.5 478.5,248.8 C494.7,251.1 510.9,253.8 527.0,256.2 C543.1,258.6 558.4,260.7 575.4,263.1 C592.4,265.5 616.6,268.7 628.7,270.4 C640.9,272.1 645.0,272.8 648.3,273.3" fill="none" stroke="#555555" stroke-width="4.2" stroke-linecap="round" stroke-linejoin="round"/>
<path d="M185.5,351.0 C188.8,350.9 198.9,351.2 205.0,350.5 C211.1,349.8 216.6,348.6 222.0,347.0 C227.4,345.4 232.8,343.1 237.4,341.2 C242.1,339.3 245.3,337.3 249.9,335.5 C254.5,333.7 258.6,331.8 265.0,330.3 C271.4,328.8 282.1,326.9 288.3,326.3 C294.5,325.7 297.6,326.4 302.2,326.9 C306.8,327.4 308.2,328.1 316.1,329.2 C324.0,330.3 340.8,332.5 349.8,333.7 C358.8,334.9 356.2,334.9 370.0,336.3 C383.8,337.7 406.5,339.6 432.3,341.9 C458.1,344.2 491.9,347.1 524.6,350.0 C557.3,352.9 607.9,357.4 628.5,359.2 C649.1,361.0 644.9,360.7 648.2,361.0" fill="none" stroke="#555555" stroke-width="4.2" stroke-linecap="round" stroke-linejoin="round"/>
<path d="M185.5,351.0 C188.8,350.9 198.9,350.2 205.0,350.5 C211.1,350.8 217.3,350.9 222.0,353.0 C226.7,355.1 229.6,360.0 233.4,363.0 C237.2,366.0 240.9,368.2 244.6,370.9 C248.3,373.6 251.6,375.8 255.5,379.0 C259.4,382.2 263.9,386.7 268.0,390.4 C272.1,394.1 275.8,397.4 280.0,401.0 C284.2,404.6 288.4,408.7 293.3,412.0 C298.2,415.3 303.8,418.4 309.7,421.0 C315.6,423.6 322.0,425.7 329.0,427.8 C336.0,429.9 343.9,432.1 351.5,433.7 C359.1,435.3 365.0,436.2 374.6,437.3 C384.2,438.4 395.7,439.3 409.2,440.3 C422.7,441.3 436.2,442.2 455.4,443.1 C474.6,444.0 495.0,444.7 524.6,445.4 C554.2,446.1 612.4,446.8 633.0,447.2 C653.6,447.6 645.9,447.4 648.5,447.5" fill="none" stroke="#555555" stroke-width="4.2" stroke-linecap="round" stroke-linejoin="round"/>
<path d="M185.5,335.2 L201.3,351.0 L185.5,366.8 L169.7,351.0 Z" fill="#e0b8ff" stroke="#6a00aa" stroke-width="7.0" stroke-linejoin="round"/>
<path d="M225.3,334.3 L241.1,350.1 L225.3,365.9 L209.5,350.1 Z" fill="#e0b8ff" stroke="#6a00aa" stroke-width="7.0" stroke-linejoin="round"/>
<path d="M279.0,221.6 L294.8,237.4 L279.0,253.2 L263.2,237.4 Z" fill="#f6b995" stroke="#b4500f" stroke-width="7.0" stroke-linejoin="round"/>
<path d="M333.4,210.7 L349.2,226.5 L333.4,242.3 L317.6,226.5 Z" fill="#f6b995" stroke="#b4500f" stroke-width="7.0" stroke-linejoin="round"/>
<path d="M648.3,257.5 L664.1,273.3 L648.3,289.1 L632.5,273.3 Z" fill="#f6b995" stroke="#b4500f" stroke-width="7.0" stroke-linejoin="round"/>
<path d="M399.4,242.4 L415.2,258.2 L399.4,274.0 L383.6,258.2 Z" fill="none" stroke="#f0996a" stroke-width="7.0" stroke-linejoin="round"/>
<path d="M279.1,387.1 L294.9,402.9 L279.1,418.7 L263.3,402.9 Z" fill="#8ecdf0" stroke="#136795" stroke-width="7.0" stroke-linejoin="round"/>
<path d="M333.6,428.7 L349.4,444.5 L333.6,460.3 L317.8,444.5 Z" fill="#8ecdf0" stroke="#136795" stroke-width="7.0" stroke-linejoin="round"/>
<path d="M648.5,431.7 L664.3,447.5 L648.5,463.3 L632.7,447.5 Z" fill="#8ecdf0" stroke="#136795" stroke-width="7.0" stroke-linejoin="round"/>
<path d="M399.2,423.6 L415.0,439.4 L399.2,455.2 L383.4,439.4 Z" fill="none" stroke="#58b6e8" stroke-width="7.0" stroke-linejoin="round"/>
<path d="M278.8,304.8 L282.9,314.1 L293.1,315.2 L285.5,322.0 L287.6,331.9 L278.8,326.8 L270.0,331.9 L272.1,322.0 L264.5,315.2 L274.7,314.1 Z" fill="#e0b8ff" stroke="#6a00aa" stroke-width="5.0" stroke-linejoin="round"/>
<path d="M333.1,320.3 L337.2,329.6 L347.4,330.7 L339.8,337.5 L341.9,347.4 L333.1,342.3 L324.3,347.4 L326.4,337.5 L318.8,330.7 L329.0,329.6 Z" fill="#e0b8ff" stroke="#6a00aa" stroke-width="5.0" stroke-linejoin="round"/>
<path d="M648.2,345.7 L652.3,355.0 L662.5,356.1 L654.9,362.9 L657.0,372.8 L648.2,367.7 L639.4,372.8 L641.5,362.9 L633.9,356.1 L644.1,355.0 Z" fill="#e0b8ff" stroke="#6a00aa" stroke-width="5.0" stroke-linejoin="round"/>
<path d="M399.0,333.7 L403.1,343.0 L413.3,344.1 L405.7,350.9 L407.8,360.8 L399.0,355.7 L390.2,360.8 L392.3,350.9 L384.7,344.1 L394.9,343.0 Z" fill="none" stroke="#cc80ff" stroke-width="5.0" stroke-linejoin="round"/>
<path d="M187.3,86.0 L194.8,93.5 L187.3,101.0 L179.8,93.5 Z" fill="#f6b995" stroke="#b4500f" stroke-width="3.5" stroke-linejoin="round"/>
<path d="M200.4,86.0 L207.9,93.5 L200.4,101.0 L192.9,93.5 Z" fill="#8ecdf0" stroke="#136795" stroke-width="3.5" stroke-linejoin="round"/>
<path d="M213.5,86.0 L221.0,93.5 L213.5,101.0 L206.0,93.5 Z" fill="#e0b8ff" stroke="#6a00aa" stroke-width="3.5" stroke-linejoin="round"/>
<path d="M187.3,117.7 L194.8,125.2 L187.3,132.7 L179.8,125.2 Z" fill="#fff" stroke="#f0996a" stroke-width="3.5" stroke-linejoin="round"/>
<path d="M200.4,117.7 L207.9,125.2 L200.4,132.7 L192.9,125.2 Z" fill="#fff" stroke="#58b6e8" stroke-width="3.5" stroke-linejoin="round"/>
<path d="M187.4,149.4 L189.4,153.9 L194.3,154.5 L190.6,157.8 L191.7,162.6 L187.4,160.1 L183.1,162.6 L184.2,157.8 L180.5,154.5 L185.4,153.9 Z" fill="#e0b8ff" stroke="#6a00aa" stroke-width="2.8" stroke-linejoin="round"/>
<path d="M201.9,149.4 L203.9,153.9 L208.8,154.5 L205.1,157.8 L206.2,162.6 L201.9,160.1 L197.6,162.6 L198.7,157.8 L195.0,154.5 L199.9,153.9 Z" fill="#fff" stroke="#cc80ff" stroke-width="2.8" stroke-linejoin="round"/>
<rect x="143.3" y="55.5" width="547.5" height="442.5" fill="none" stroke="#000" stroke-width="4.9"/>
<rect x="706.9" y="55.5" width="168.39999999999998" height="442.5" fill="none" stroke="#000" stroke-width="4.9"/>
<line x1="145.25" y1="94.0" x2="149.3" y2="94.0" stroke="#000" stroke-width="4.2"/><line x1="873.3499999999999" y1="94.0" x2="868.0" y2="94.0" stroke="#000" stroke-width="4.2"/><line x1="145.25" y1="132.4" x2="149.3" y2="132.4" stroke="#000" stroke-width="4.2"/><line x1="873.3499999999999" y1="132.4" x2="868.0" y2="132.4" stroke="#000" stroke-width="4.2"/><line x1="145.25" y1="170.9" x2="149.3" y2="170.9" stroke="#000" stroke-width="4.2"/><line x1="873.3499999999999" y1="170.9" x2="868.0" y2="170.9" stroke="#000" stroke-width="4.2"/><line x1="145.25" y1="209.3" x2="149.3" y2="209.3" stroke="#000" stroke-width="4.2"/><line x1="873.3499999999999" y1="209.3" x2="868.0" y2="209.3" stroke="#000" stroke-width="4.2"/><line x1="145.25" y1="247.8" x2="155.2" y2="247.8" stroke="#000" stroke-width="4.2"/><line x1="873.3499999999999" y1="247.8" x2="862.3" y2="247.8" stroke="#000" stroke-width="4.2"/><line x1="145.25" y1="286.2" x2="149.3" y2="286.2" stroke="#000" stroke-width="4.2"/><line x1="873.3499999999999" y1="286.2" x2="868.0" y2="286.2" stroke="#000" stroke-width="4.2"/><line x1="145.25" y1="324.7" x2="149.3" y2="324.7" stroke="#000" stroke-width="4.2"/><line x1="873.3499999999999" y1="324.7" x2="868.0" y2="324.7" stroke="#000" stroke-width="4.2"/><line x1="145.25" y1="363.1" x2="149.3" y2="363.1" stroke="#000" stroke-width="4.2"/><line x1="873.3499999999999" y1="363.1" x2="868.0" y2="363.1" stroke="#000" stroke-width="4.2"/><line x1="145.25" y1="401.6" x2="149.3" y2="401.6" stroke="#000" stroke-width="4.2"/><line x1="873.3499999999999" y1="401.6" x2="868.0" y2="401.6" stroke="#000" stroke-width="4.2"/><line x1="145.25" y1="440.0" x2="155.2" y2="440.0" stroke="#000" stroke-width="4.2"/><line x1="873.3499999999999" y1="440.0" x2="862.3" y2="440.0" stroke="#000" stroke-width="4.2"/><line x1="145.25" y1="478.5" x2="149.3" y2="478.5" stroke="#000" stroke-width="4.2"/><line x1="873.3499999999999" y1="478.5" x2="868.0" y2="478.5" stroke="#000" stroke-width="4.2"/><line x1="204" y1="496.05" x2="204" y2="491.2" stroke="#000" stroke-width="4.2"/><line x1="254.2" y1="496.05" x2="254.2" y2="491.2" stroke="#000" stroke-width="4.2"/><line x1="292.5" y1="496.05" x2="292.5" y2="491.2" stroke="#000" stroke-width="4.2"/><line x1="325.7" y1="496.05" x2="325.7" y2="491.2" stroke="#000" stroke-width="4.2"/><line x1="354.3" y1="496.05" x2="354.3" y2="485.6" stroke="#000" stroke-width="4.2"/><line x1="380.6" y1="496.05" x2="380.6" y2="491.2" stroke="#000" stroke-width="4.2"/><line x1="404.5" y1="496.05" x2="404.5" y2="491.2" stroke="#000" stroke-width="4.2"/><line x1="426" y1="496.05" x2="426" y2="491.2" stroke="#000" stroke-width="4.2"/><line x1="446.8" y1="496.05" x2="446.8" y2="491.2" stroke="#000" stroke-width="4.2"/><line x1="466.9" y1="496.05" x2="466.9" y2="485.6" stroke="#000" stroke-width="4.2"/><line x1="485.4" y1="496.05" x2="485.4" y2="491.2" stroke="#000" stroke-width="4.2"/><line x1="503.4" y1="496.05" x2="503.4" y2="491.2" stroke="#000" stroke-width="4.2"/><line x1="520.5" y1="496.05" x2="520.5" y2="491.2" stroke="#000" stroke-width="4.2"/><line x1="537.8" y1="496.05" x2="537.8" y2="491.2" stroke="#000" stroke-width="4.2"/><line x1="553.7" y1="496.05" x2="553.7" y2="485.6" stroke="#000" stroke-width="4.2"/><line x1="569.6" y1="496.05" x2="569.6" y2="491.2" stroke="#000" stroke-width="4.2"/><line x1="584.6" y1="496.05" x2="584.6" y2="491.2" stroke="#000" stroke-width="4.2"/><line x1="599" y1="496.05" x2="599" y2="491.2" stroke="#000" stroke-width="4.2"/><line x1="612.3" y1="496.05" x2="612.3" y2="491.2" stroke="#000" stroke-width="4.2"/><line x1="626.6" y1="496.05" x2="626.6" y2="485.6" stroke="#000" stroke-width="4.2"/><line x1="640" y1="496.05" x2="640" y2="491.2" stroke="#000" stroke-width="4.2"/><line x1="653.2" y1="496.05" x2="653.2" y2="491.2" stroke="#000" stroke-width="4.2"/><line x1="665.9" y1="496.05" x2="665.9" y2="491.2" stroke="#000" stroke-width="4.2"/><line x1="678.6" y1="496.05" x2="678.6" y2="491.2" stroke="#000" stroke-width="4.2"/>
<line x1="706.9" y1="327.5" x2="875.3" y2="327.5" stroke="#2e2e2e" stroke-width="4.9"/>
<line x1="706.9" y1="381.0" x2="875.3" y2="381.0" stroke="#2e2e2e" stroke-width="5.1"/>
</g>
<g id="texts">
<text x="-1.8" y="33.0" font-size="42.5" font-weight="bold" fill="#1a1a1a" text-anchor="start" stroke="#1a1a1a" stroke-width="2.6" stroke-linejoin="round">a</text>
<text x="915.0" y="32.6" font-size="46" font-weight="bold" fill="#1a1a1a" text-anchor="start" stroke="#1a1a1a" stroke-width="2.6" stroke-linejoin="round">b</text>
<text x="90.4" y="63.2" font-size="31.5" font-weight="normal" fill="#000" text-anchor="start" textLength="38.5" lengthAdjust="spacingAndGlyphs" >2.3</text>
<text x="90.8" y="255.4" font-size="31.5" font-weight="normal" fill="#000" text-anchor="start" textLength="39" lengthAdjust="spacingAndGlyphs" >2.2</text>
<text x="90.5" y="447.8" font-size="31.5" font-weight="normal" fill="#000" text-anchor="start" textLength="34.5" lengthAdjust="spacingAndGlyphs" >2.1</text>
<text x="355.5" y="534.0" font-size="31.5" font-weight="normal" fill="#000" text-anchor="middle" textLength="31.5" lengthAdjust="spacingAndGlyphs" >10</text>
<text x="467.3" y="534.0" font-size="31.5" font-weight="normal" fill="#000" text-anchor="middle" textLength="31.5" lengthAdjust="spacingAndGlyphs" >20</text>
<text x="553.9" y="534.0" font-size="31.5" font-weight="normal" fill="#000" text-anchor="middle" textLength="31.5" lengthAdjust="spacingAndGlyphs" >30</text>
<text x="626.2" y="534.0" font-size="31.5" font-weight="normal" fill="#000" text-anchor="middle" textLength="31.5" lengthAdjust="spacingAndGlyphs" >40</text>
<text x="691.2" y="534.0" font-size="31.5" font-weight="normal" fill="#000" text-anchor="middle" textLength="31.5" lengthAdjust="spacingAndGlyphs" >50</text>
<text x="364" y="585.5" font-size="37" font-weight="normal" fill="#000" text-anchor="start" textLength="106" lengthAdjust="spacingAndGlyphs" >Λ (nm)</text>
<g transform="translate(68.4,335.5) rotate(-90)"><text x="0" y="0" font-size="37" fill="#000" textLength="117" lengthAdjust="spacingAndGlyphs">d<tspan font-size="25" dy="-15">200</tspan><tspan dy="15"> (Å)</tspan></text></g>
<text x="232.5" y="102.9" font-size="23.7" font-weight="normal" fill="#000" text-anchor="start" textLength="234.5" lengthAdjust="spacingAndGlyphs" >Measured values on Si</text>
<text x="232.5" y="134.7" font-size="23.7" font-weight="normal" fill="#000" text-anchor="start" textLength="270" lengthAdjust="spacingAndGlyphs" >Measured values on MgO</text>
<text x="232.5" y="166.6" font-size="23.7" font-weight="normal" fill="#000" text-anchor="start" textLength="181" lengthAdjust="spacingAndGlyphs" >Calculated values</text>
<text x="573.5" y="119.2" font-size="36.3" font-weight="bold" fill="#000" text-anchor="start" textLength="99" lengthAdjust="spacingAndGlyphs" >BBHD</text>
<text x="744.5" y="120" font-size="36.3" font-weight="bold" fill="#000" text-anchor="start" textLength="88" lengthAdjust="spacingAndGlyphs" >DESY</text>
<text x="748.4" y="172.2" font-size="27" font-weight="bold" fill="#000" text-anchor="start" textLength="79" lengthAdjust="spacingAndGlyphs" >Nano-</text>
<text x="721.6" y="223.8" font-size="28" font-weight="bold" fill="#000" text-anchor="start" textLength="134" lengthAdjust="spacingAndGlyphs" >diffraction</text>
<text x="773.5" y="306" font-size="37" font-weight="normal" fill="#000" text-anchor="start" >d</text>
<text x="773.5" y="425" font-size="37" font-weight="normal" fill="#000" text-anchor="start" >d</text>
<path d="M796,313.8 H810 M803,313.8 V298.8" stroke="#000" stroke-width="1.6" fill="none"/>
<path d="M797.7,416.4 V434.2 M801.9,416.4 V434.2" stroke="#000" stroke-width="2.1" fill="none"/>
<path d="M490.8,211.5 H504.3 M497.55,211.5 V198.10000000000002" stroke="#000" stroke-width="1.6" fill="none"/>
<text x="511" y="212.2" font-size="21.8" font-weight="normal" fill="#000" text-anchor="start" textLength="53" lengthAdjust="spacingAndGlyphs" >ζ-TaN</text>
<path d="M492,289.59999999999997 H505.5 M498.75,289.59999999999997 V276.2" stroke="#000" stroke-width="1.6" fill="none"/>
<text x="513.6" y="290.4" font-size="21.8" fill="#000" textLength="59.8" lengthAdjust="spacingAndGlyphs">Ta<tspan font-size="14" dy="6">0.75</tspan><tspan dy="-6">N</tspan></text>
<path d="M464,330.5 H477.5 M470.75,330.5 V317.1" stroke="#000" stroke-width="1.6" fill="none"/>
<text x="484.5" y="331.3" font-size="21.8" fill="#000">MoN<tspan font-size="14" dy="6">0.5</tspan><tspan dy="-6">/ζ-TaN</tspan></text>
<path d="M459.2,397.09999999999997 H472.7 M465.95,397.09999999999997 V383.7" stroke="#000" stroke-width="1.6" fill="none"/>
<text x="480" y="397.9" font-size="21.8" fill="#000" textLength="132.6" lengthAdjust="spacingAndGlyphs">MoN<tspan font-size="14" dy="6">0.5</tspan><tspan dy="-6">/Ta</tspan><tspan font-size="14" dy="6">0.75</tspan><tspan dy="-6">N</tspan></text>
<path d="M500.3,425.2 H513.8 M507.05,425.2 V411.8" stroke="#000" stroke-width="1.6" fill="none"/>
<text x="521" y="426" font-size="21.8" fill="#000" textLength="62.5" lengthAdjust="spacingAndGlyphs">MoN<tspan font-size="14" dy="6">0.5</tspan></text>
</g>
</svg>
</body></html>
